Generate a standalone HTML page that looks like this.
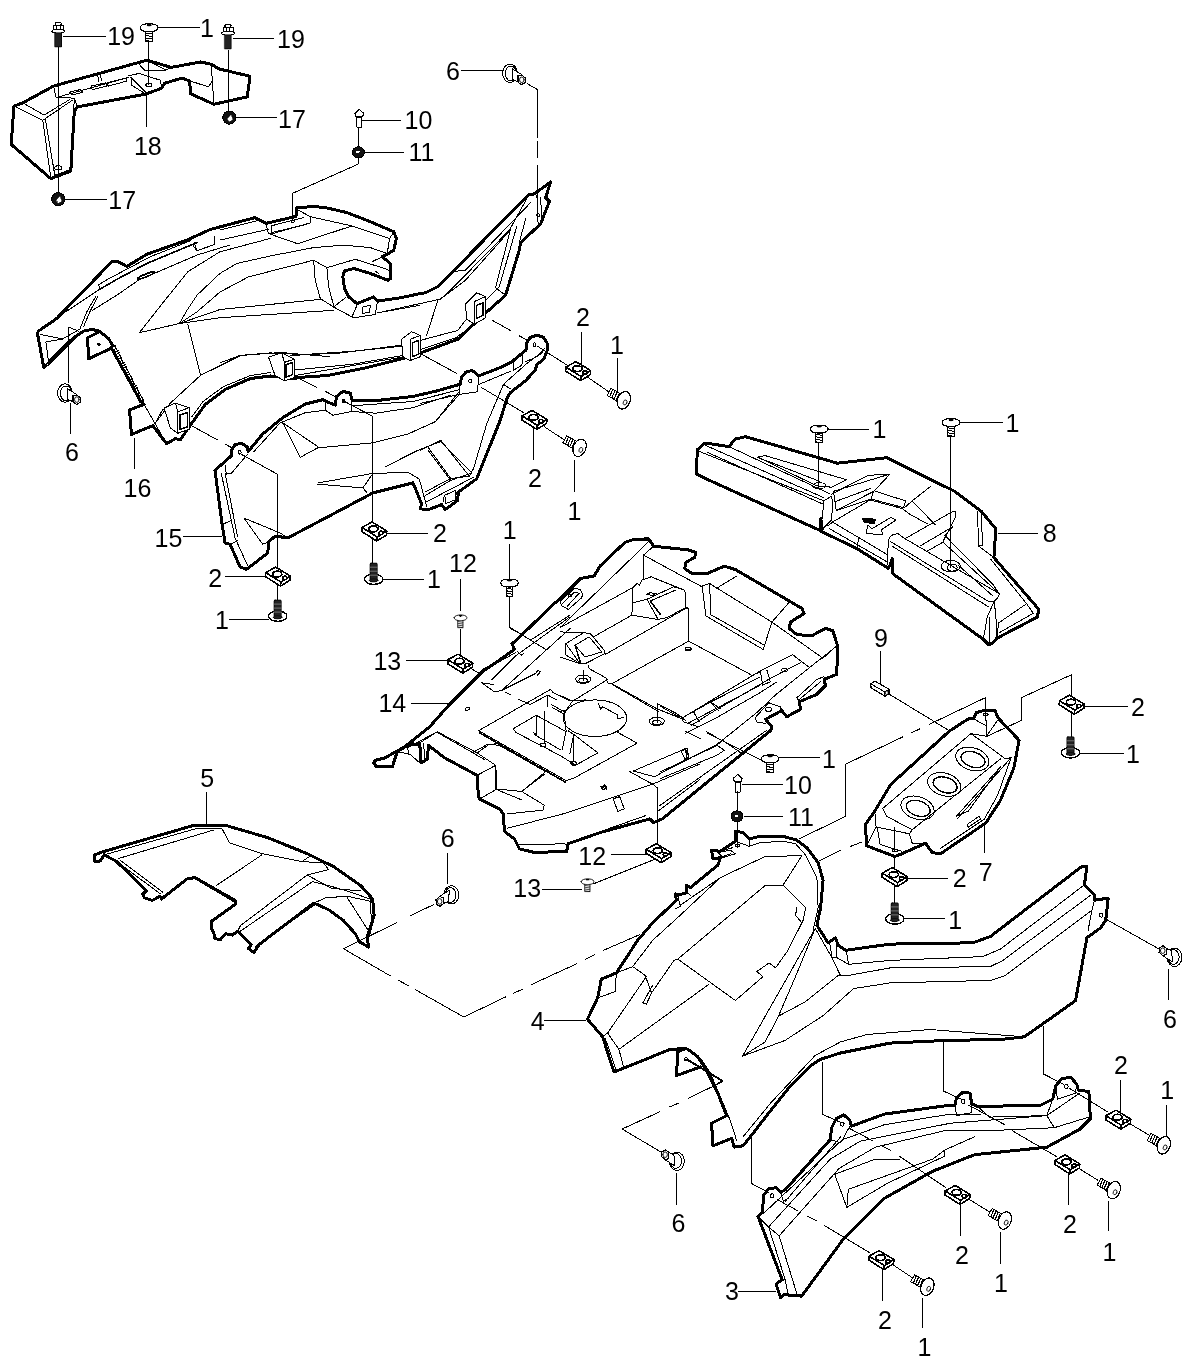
<!DOCTYPE html>
<html><head><meta charset="utf-8"><title>Parts diagram</title>
<style>
html,body{margin:0;padding:0;background:#fff;}
svg{will-change:transform;display:block;shape-rendering:crispEdges;}
svg path,svg ellipse,svg circle,svg rect,svg line{stroke:#000;stroke-linejoin:round;stroke-linecap:round;}
svg text{font-family:"Liberation Sans",sans-serif;fill:#000;stroke:none;}
</style></head><body>
<svg width="1197" height="1365" viewBox="0 0 1197 1365">
<rect x="0" y="0" width="1197" height="1365" fill="#fff" stroke="none" style="stroke:none"/>
<path d="M13.9 106.1 L22.7 102.9 L53.5 86.1 L147.0 60.2 L171.1 67.4 L200.5 62.0 L211.2 64.2 L219.2 69.0 L250.0 76.2 L247.3 96.8 L213.9 104.3 L190.3 93.6 L189.8 81.0 L181.8 78.1 L164.4 83.4 L161.7 88.2 L145.7 94.1 L77.5 106.9 L74.3 110.9 L70.8 171.1 L50.8 178.6 L11.2 144.4Z" stroke-width="3" fill="none"/>
<path d="M13.9 106.1 L42.8 120.3 L72.2 100.3" stroke-width="1" fill="none"/>
<path d="M42.8 120.3 L50.8 177.8" stroke-width="1" fill="none"/>
<path d="M45.4 119.5 L54.8 175.1" stroke-width="1" fill="none"/>
<path d="M54.8 175.1 L70.0 169.8" stroke-width="1" fill="none"/>
<path d="M53.5 86.1 L56.1 97.6 L74.3 98.1 L77.5 106.9" stroke-width="1" fill="none"/>
<path d="M56.1 97.6 L128.3 77.5" stroke-width="1" fill="none"/>
<path d="M74.3 98.1 L70.8 171.1" stroke-width="1" fill="none"/>
<path d="M22.7 102.9 L44.1 115.0 L70.0 99.4" stroke-width="1" fill="none"/>
<path d="M97.6 74.3 L98.9 81.5" stroke-width="1" fill="none"/>
<path d="M100.3 73.8 L101.6 81.0" stroke-width="1" fill="none"/>
<path d="M211.2 64.2 L213.9 103.7" stroke-width="1" fill="none"/>
<path d="M190.3 81.0 L208.5 86.9 L212.5 80.2" stroke-width="1" fill="none"/>
<path d="M147.0 60.2 L165.7 70.0 L171.1 67.4" stroke-width="1" fill="none"/>
<path d="M128.3 75.7 L139.0 73.5 L160.4 80.2 L161.7 88.2" stroke-width="1" fill="none"/>
<path d="M131.0 77.5 L145.7 92.2" stroke-width="1" fill="none"/>
<path d="M131.0 77.5 L131.5 85.0 L145.7 94.1" stroke-width="1" fill="none"/>
<path d="M139.0 64.2 L144.4 70.0 L165.7 70.0" stroke-width="1" fill="none"/>
<path d="M69.5 92.2 L80.2 89.6 L82.9 92.2 L72.2 94.9Z" stroke-width="1" fill="none"/>
<path d="M90.9 86.1 L105.6 82.9 L106.9 86.1 L92.2 89.6Z" stroke-width="1" fill="none"/>
<path d="M106.9 82.9 L125.6 78.1 L127.0 81.0 L108.3 86.1Z" stroke-width="1" fill="none"/>
<ellipse cx="148.9" cy="85.0" rx="3.2" ry="1.9" stroke-width="1" fill="none"/>
<ellipse cx="58.3" cy="167.9" rx="3.7" ry="2.1" stroke-width="1" fill="none"/>
<path d="M58.8 46.8 L58.8 192.5" stroke-width="1" fill="none"/>
<path d="M148.9 42.2 L148.9 85.0" stroke-width="1" fill="none"/>
<path d="M228.0 49.5 L228.0 110.9" stroke-width="1" fill="none"/>
<path d="M146.5 94.9 L146.5 127.0" stroke-width="1" fill="none"/>
<path d="M62.8 36.1 L105.6 36.1" stroke-width="1" fill="none"/>
<path d="M158.3 27.5 L199.2 27.5" stroke-width="1" fill="none"/>
<path d="M233.9 38.8 L274.0 38.8" stroke-width="1" fill="none"/>
<path d="M236.6 117.6 L276.7 117.6" stroke-width="1" fill="none"/>
<path d="M65.5 199.2 L106.9 199.2" stroke-width="1" fill="none"/>
<text transform="translate(107.2 44.9) scale(1 1)" font-size="25" text-anchor="start">19</text>
<text transform="translate(200.0 36.9) scale(1 1)" font-size="25" text-anchor="start">1</text>
<text transform="translate(277.0 47.6) scale(1 1)" font-size="25" text-anchor="start">19</text>
<text transform="translate(278.0 128.3) scale(1 1)" font-size="25" text-anchor="start">17</text>
<text transform="translate(108.3 209.3) scale(1 1)" font-size="25" text-anchor="start">17</text>
<text transform="translate(133.9 155.1) scale(1 1)" font-size="25" text-anchor="start">18</text>
<path d="M43.7 367.3 L37.5 333.6 L38.4 331.1 L56.7 318.5 L111.9 261.7 L117.2 261.4 L126.9 266.4 L147.0 254.2 L187.1 240.0 L210.5 229.4 L255.1 217.6 L255.1 217.6 L265.9 223.4 L296.0 216.4 L296.0 208.0 L310.2 206.7 L323.6 207.2 L347.0 212.6 L370.4 221.7 L393.8 231.8 L396.3 238.5 L393.8 250.2 L387.1 254.3 L382.1 256.8 L390.4 263.5 L390.4 278.6 L387.9 280.2 L370.4 273.5 L353.7 268.5 L344.5 271.0 L342.8 276.9 L344.5 288.6 L348.7 296.9 L357.0 303.6 L373.7 296.9 L377.9 301.1 L400.5 297.8 L420.0 293.6 L425.3 292.8 L437.9 286.5 L452.9 271.5 L528.1 195.1 L534.4 193.8 L550.7 182.0 L545.6 197.6 L549.4 201.3 L540.6 223.9 L520.6 242.7 L519.3 250.2 L505.5 295.3 L483.0 315.4 L457.9 339.2 L420.3 353.0 L405.3 358.0 L365.2 368.0 L327.6 375.5 L290.0 378.0 L295.7 378.5 L270.6 376.0 L250.6 378.5 L225.5 389.3 L205.4 404.3 L190.4 425.1 L180.4 439.7 L175.4 438.7 L166.6 443.7 L152.8 425.6 L131.5 434.4 L129.5 410.1 L144.0 404.3 L140.8 401.8 L111.7 348.4 L112.2 344.4 L108.5 338.6 L99.3 331.1 L91.8 329.4 L83.5 331.1 L75.1 336.9 L63.4 348.6 L47.5 364.5Z" stroke-width="3" fill="none"/>
<path d="M97.7 332.7 L87.6 337.7 L88.5 359.0 L111.9 347.8" stroke-width="3" fill="none"/>
<ellipse cx="99.0" cy="344.4" rx="1.3" ry="1.3" stroke-width="1" fill="#000"/>
<path d="M114.4 345.3 L143.6 401.2" stroke-width="1" fill="none"/>
<path d="M113.4 346.9 L115.5 345.9" stroke-width="1" fill="none"/>
<path d="M114.7 349.3 L116.9 348.3" stroke-width="1" fill="none"/>
<path d="M115.9 351.6 L118.1 350.6" stroke-width="1" fill="none"/>
<path d="M117.1 354.0 L119.2 352.9" stroke-width="1" fill="none"/>
<path d="M118.2 356.3 L120.4 355.3" stroke-width="1" fill="none"/>
<path d="M119.6 358.6 L121.7 357.6" stroke-width="1" fill="none"/>
<path d="M120.7 361.0 L122.9 360.0" stroke-width="1" fill="none"/>
<path d="M121.9 363.3 L124.1 362.3" stroke-width="1" fill="none"/>
<path d="M123.1 365.6 L125.2 364.6" stroke-width="1" fill="none"/>
<path d="M124.2 368.0 L126.4 367.0" stroke-width="1" fill="none"/>
<path d="M125.6 370.3 L127.7 369.3" stroke-width="1" fill="none"/>
<path d="M126.7 372.7 L128.9 371.7" stroke-width="1" fill="none"/>
<path d="M127.9 375.0 L130.1 374.0" stroke-width="1" fill="none"/>
<path d="M129.1 377.3 L131.3 376.3" stroke-width="1" fill="none"/>
<path d="M130.4 379.7 L132.6 378.7" stroke-width="1" fill="none"/>
<path d="M131.6 382.0 L133.8 381.0" stroke-width="1" fill="none"/>
<path d="M132.8 384.4 L134.9 383.4" stroke-width="1" fill="none"/>
<path d="M133.9 386.7 L136.1 385.7" stroke-width="1" fill="none"/>
<path d="M135.3 389.0 L137.4 388.0" stroke-width="1" fill="none"/>
<path d="M136.4 391.4 L138.6 390.4" stroke-width="1" fill="none"/>
<path d="M137.6 393.7 L139.8 392.7" stroke-width="1" fill="none"/>
<path d="M138.8 396.1 L140.9 395.1" stroke-width="1" fill="none"/>
<path d="M140.1 398.4 L142.3 397.4" stroke-width="1" fill="none"/>
<path d="M141.3 400.7 L143.5 399.7" stroke-width="1" fill="none"/>
<path d="M40.0 334.4 L62.6 338.9 L79.3 329.4" stroke-width="1" fill="none"/>
<path d="M45.9 341.9 L63.4 338.9" stroke-width="1" fill="none"/>
<path d="M45.9 341.9 L48.4 360.6 L70.1 338.9" stroke-width="1" fill="none"/>
<path d="M68.8 327.2 L78.5 331.1" stroke-width="1" fill="none"/>
<path d="M64.3 312.7 L99.3 289.6" stroke-width="1" fill="none"/>
<path d="M99.3 289.6 L116.9 279.3 L147.0 263.4 L197.1 242.5" stroke-width="1.6" fill="none"/>
<path d="M100.2 289.8 L98.5 284.8 L108.5 278.8 L123.6 270.9 L150.3 256.7 L190.4 240.8" stroke-width="1" fill="none"/>
<path d="M80.1 328.6 L86.8 311.8 L96.0 296.0" stroke-width="1" fill="none"/>
<path d="M83.5 326.9 L90.2 311.0 L97.7 296.8" stroke-width="1" fill="none"/>
<path d="M92.7 310.2 L116.9 295.1 L138.6 280.1 L197.1 255.0 L230.0 245.0" stroke-width="1" fill="none"/>
<ellipse cx="146.1" cy="275.4" rx="9.7" ry="1.8" stroke-width="1" fill="none" transform="rotate(-22 146.1 275.4)"/>
<ellipse cx="146.1" cy="275.4" rx="8.0" ry="1.0" stroke-width="1" fill="none" transform="rotate(-22 146.1 275.4)"/>
<path d="M139.4 332.7 L163.7 301.8 L187.9 271.7 L220.0 251.7 L220.0 251.8 L245.1 245.1 L270.1 238.5" stroke-width="1" fill="none"/>
<path d="M139.4 332.7 L179.5 323.5 L220.0 317.7 L333.6 310.3" stroke-width="1" fill="none"/>
<path d="M179.5 323.5 L220.0 309.5 L320.3 299.4" stroke-width="1" fill="none"/>
<path d="M179.5 323.5 L197.1 311.8 L220.0 292.0 L248.4 276.9 L313.6 260.2 L326.9 267.7 L355.3 259.3 L384.6 268.5 L388.8 270.2" stroke-width="1" fill="none"/>
<path d="M179.5 323.5 L187.1 310.2 L197.1 295.1 L220.0 273.4 L236.7 263.5 L270.1 256.0 L313.6 247.6 L343.6 245.1 L370.4 247.6 L387.1 253.5" stroke-width="1" fill="none"/>
<path d="M187.9 324.4 L200.4 374.5" stroke-width="1" fill="none"/>
<path d="M330.0 356.7 L280.6 352.5 L240.5 355.5 L200.4 375.5 L170.4 403.1 L155.3 423.1" stroke-width="1" fill="none"/>
<path d="M270.6 372.5 L250.6 375.5 L223.0 386.8 L202.9 401.8 L191.7 416.9" stroke-width="1" fill="none"/>
<path d="M144.0 404.3 L166.6 443.7" stroke-width="1" fill="none"/>
<path d="M155.3 423.1 L162.8 409.3 L166.6 410.6" stroke-width="1" fill="none"/>
<path d="M265.9 223.4 L268.5 233.4 L271.8 233.8 L310.2 222.9 L310.2 216.7 L297.7 209.7" stroke-width="1" fill="none"/>
<path d="M271.0 225.9 L271.8 232.6 L306.9 224.3" stroke-width="1" fill="none"/>
<path d="M271.0 225.9 L303.5 217.6" stroke-width="1" fill="none"/>
<ellipse cx="292.7" cy="221.4" rx="1.7" ry="1.3" stroke-width="1" fill="none"/>
<path d="M310.2 216.7 L352.0 225.9 L389.6 238.5 L387.1 254.3" stroke-width="1" fill="none"/>
<path d="M389.6 238.5 L393.8 231.8" stroke-width="1" fill="none"/>
<path d="M269.3 233.8 L297.7 243.8 L352.0 225.9" stroke-width="1" fill="none"/>
<path d="M220.0 230.1 L256.8 220.9" stroke-width="1" fill="none"/>
<path d="M220.0 240.1 L268.5 229.3" stroke-width="1" fill="none"/>
<path d="M313.6 260.2 L315.2 280.2 L320.3 298.6 L333.6 307.0 L353.7 317.8 L375.4 314.5 L377.4 301.1" stroke-width="1" fill="none"/>
<path d="M326.9 267.7 L328.6 286.9 L333.6 305.3" stroke-width="1" fill="none"/>
<path d="M333.6 307.0 L345.3 297.8" stroke-width="1" fill="none"/>
<path d="M352.0 317.0 L357.0 305.3" stroke-width="1" fill="none"/>
<path d="M362.9 307.0 L370.4 305.3 L369.5 312.0 L362.0 313.6Z" stroke-width="1" fill="none"/>
<path d="M372.0 261.8 L382.1 256.8" stroke-width="1" fill="none"/>
<path d="M375.4 271.5 L378.7 273.2" stroke-width="1" fill="none"/>
<path d="M377.9 312.8 L420.0 305.3" stroke-width="1" fill="none"/>
<path d="M220.0 362.9 L240.1 355.4 L270.1 352.9 L303.5 354.6 L353.7 351.2 L402.1 346.2" stroke-width="1" fill="none"/>
<path d="M295.2 375.5 L402.1 357.1" stroke-width="1" fill="none"/>
<path d="M377.7 312.9 L440.4 299.1 L465.4 280.3 L508.0 232.7 L528.1 196.3" stroke-width="1" fill="none"/>
<path d="M437.9 300.3 L426.6 335.4" stroke-width="1" fill="none"/>
<path d="M440.4 299.1 L452.9 287.8 L510.6 228.9" stroke-width="1" fill="none"/>
<path d="M452.9 271.5 L465.4 270.3 L530.6 202.6" stroke-width="1" fill="none"/>
<path d="M510.6 228.9 L495.5 287.8 L505.5 295.3" stroke-width="1" fill="none"/>
<path d="M516.8 226.4 L499.3 286.5 L485.5 300.3" stroke-width="1" fill="none"/>
<path d="M525.6 218.9 L519.3 242.7" stroke-width="1" fill="none"/>
<path d="M536.9 195.1 L538.1 223.9" stroke-width="1" fill="none"/>
<path d="M540.6 197.6 L541.9 220.1" stroke-width="1" fill="none"/>
<ellipse cx="538.1" cy="215.1" rx="1.3" ry="1.8" stroke-width="1" fill="none"/>
<path d="M420.3 340.4 L457.9 330.4 L465.4 320.4 L467.9 317.9" stroke-width="1" fill="none"/>
<path d="M421.6 349.2 L455.4 337.9 L476.7 323.4" stroke-width="1" fill="none"/>
<path d="M290.0 355.5 L340.1 353.0 L400.3 345.4" stroke-width="1" fill="none"/>
<path d="M290.0 370.5 L352.7 364.2 L402.8 355.5" stroke-width="1" fill="none"/>
<path d="M465.4 304.1 L476.7 292.8 L485.5 296.6 L474.2 301.6 L474.2 324.1 L466.7 319.1Z" stroke-width="1" fill="#fff"/>
<path d="M474.2 301.6 L485.5 296.6 L485.5 317.9 L474.2 324.1Z" stroke-width="1" fill="#fff"/>
<path d="M476.7 305.3 L483.0 302.8 L483.0 315.4 L476.7 318.4Z" stroke-width="1.5" fill="none"/>
<path d="M401.5 339.2 L411.6 331.7 L420.3 335.4 L410.3 339.2 L410.3 360.5 L402.8 356.7Z" stroke-width="1" fill="#fff"/>
<path d="M410.3 339.2 L420.3 335.4 L420.3 356.7 L410.3 360.5Z" stroke-width="1" fill="#fff"/>
<path d="M412.3 342.9 L418.3 340.4 L418.3 354.2 L412.3 356.7Z" stroke-width="1.5" fill="none"/>
<path d="M268.5 357.1 L281.8 352.9 L284.3 362.4 L284.3 380.8 L275.1 375.5Z" stroke-width="1" fill="#fff"/>
<path d="M284.3 362.4 L294.4 359.1 L294.4 377.5 L284.3 380.8Z" stroke-width="1" fill="#fff"/>
<path d="M281.8 352.9 L294.4 359.1" stroke-width="1" fill="none"/>
<path d="M286.0 364.6 L292.7 362.4 L292.7 374.6 L286.0 377.1Z" stroke-width="1.5" fill="none"/>
<path d="M164.1 408.1 L175.4 403.1 L177.9 411.9 L177.9 433.2 L170.4 428.1Z" stroke-width="1" fill="#fff"/>
<path d="M177.9 411.9 L189.1 407.6 L189.1 429.4 L177.9 433.2Z" stroke-width="1" fill="#fff"/>
<path d="M175.4 403.1 L189.1 407.6" stroke-width="1" fill="none"/>
<path d="M179.9 415.1 L187.4 412.6 L187.4 426.9 L179.9 429.4Z" stroke-width="1.5" fill="none"/>
<path d="M194.2 242.2 L196.7 250.7 L214.2 244.7 L215.0 235.7" stroke-width="1" fill="none"/>
<path d="M196.7 250.7 L192.9 245.2" stroke-width="1" fill="none"/>
<path d="M215.0 470.4 L231.3 455.8 L231.3 450.3 L235.1 444.8 L241.4 443.1 L247.1 446.8 L248.1 451.6 L262.7 434.0 L282.7 417.7 L305.3 404.0 L322.8 399.7 L326.6 401.5 L335.3 405.2 L336.6 396.4 L342.9 391.4 L350.4 393.2 L352.1 400.2 L375.4 400.7 L413.0 396.4 L436.7 391.0 L460.1 384.3 L461.8 376.8 L465.9 372.1 L471.8 370.6 L476.0 373.1 L478.5 376.0 L500.2 367.6 L511.9 361.8 L521.9 353.4 L526.1 350.1 L526.1 343.4 L530.3 337.5 L537.0 335.0 L543.6 337.5 L547.3 343.4 L547.8 349.2 L543.6 359.3 L537.0 364.3 L535.3 370.1 L525.3 381.0 L510.2 392.7 L506.9 398.5 L500.2 420.3 L476.8 478.7 L458.4 492.1 L457.6 500.5 L445.1 509.6 L441.7 504.6 L428.4 509.6 L420.0 508.8 L421.8 504.2 L413.0 482.9 L372.9 492.9 L287.7 538.0 L275.2 536.0 L268.9 541.8 L267.7 553.1 L246.4 569.4 L240.1 566.9 L230.1 544.3 L225.1 543.1 L222.1 524.3Z" stroke-width="3" fill="#fff"/>
<path d="M225.1 465.4 L226.3 474.1 L231.3 473.4 L247.6 454.1" stroke-width="1" fill="none"/>
<path d="M325.3 401.5 L325.3 410.2 L332.8 415.2 L351.6 411.5 L352.1 400.2" stroke-width="1" fill="none"/>
<path d="M460.1 384.3 L459.3 394.4 L477.6 391.8 L478.5 376.0" stroke-width="1" fill="none"/>
<ellipse cx="239.6" cy="452.3" rx="1.5" ry="1.8" stroke-width="1" fill="none"/>
<ellipse cx="343.6" cy="401.0" rx="1.5" ry="1.8" stroke-width="1" fill="none"/>
<ellipse cx="470.1" cy="381.0" rx="1.5" ry="1.8" stroke-width="1" fill="none"/>
<ellipse cx="534.5" cy="344.6" rx="1.5" ry="1.8" stroke-width="1" fill="none"/>
<path d="M221.3 473.4 L235.1 538.0 L247.6 565.6" stroke-width="1" fill="none"/>
<path d="M225.1 473.4 L237.6 536.8" stroke-width="1" fill="none"/>
<path d="M253.9 451.6 L280.2 422.8 L305.3 412.7 L325.3 410.2" stroke-width="1" fill="none"/>
<path d="M282.7 422.8 L300.3 457.3 L317.8 447.8 L372.9 442.8 L408.0 434.0 L435.6 421.5 L458.1 392.7" stroke-width="1" fill="none"/>
<path d="M282.7 422.8 L317.8 446.6" stroke-width="1" fill="none"/>
<path d="M317.8 482.9 L372.9 473.4 L408.0 472.4 L419.3 479.1 L426.8 506.7" stroke-width="1" fill="none"/>
<path d="M317.8 484.2 L362.9 487.9 L366.7 492.4" stroke-width="1" fill="none"/>
<path d="M362.9 487.9 L372.9 473.4" stroke-width="1" fill="none"/>
<path d="M352.9 405.7 L413.0 401.5 L459.4 389.7" stroke-width="1" fill="none"/>
<path d="M351.6 411.5 L375.4 413.2 L413.0 407.7 L450.6 395.2" stroke-width="1" fill="none"/>
<path d="M385.5 466.6 L418.0 450.3 L440.6 441.6 L470.7 471.6" stroke-width="1" fill="none"/>
<path d="M428.1 450.3 L450.6 480.4" stroke-width="1" fill="none"/>
<path d="M425.6 495.4 L450.6 480.4 L471.9 472.9" stroke-width="1" fill="none"/>
<path d="M426.8 501.7 L453.1 487.9 L473.2 477.4" stroke-width="1" fill="none"/>
<path d="M243.9 518.0 L280.2 533.0 L287.7 538.0" stroke-width="1" fill="none"/>
<path d="M243.9 518.0 L262.7 544.3 L268.9 541.8" stroke-width="1" fill="none"/>
<path d="M222.6 524.3 L231.3 520.5 L235.1 538.0" stroke-width="1" fill="none"/>
<path d="M230.1 544.3 L237.6 540.6" stroke-width="1" fill="none"/>
<path d="M443.1 501.7 L444.4 495.4 L455.6 490.4 L458.1 499.2" stroke-width="1" fill="none"/>
<path d="M459.3 394.4 L435.0 421.9 L420.0 428.6" stroke-width="1" fill="none"/>
<path d="M420.0 403.5 L459.3 394.4" stroke-width="1" fill="none"/>
<path d="M479.3 384.3 L511.1 371.0" stroke-width="1" fill="none"/>
<path d="M513.6 362.6 L513.6 370.1 L521.9 365.1 L522.8 354.3" stroke-width="1" fill="none"/>
<path d="M503.5 384.3 L486.8 423.6 L473.5 468.7 L469.3 476.2 L450.1 478.7 L425.0 492.1" stroke-width="1" fill="none"/>
<path d="M503.5 384.3 L526.9 363.4 L540.3 353.4 L544.5 348.4" stroke-width="1" fill="none"/>
<path d="M503.5 384.3 L510.2 388.8" stroke-width="1" fill="none"/>
<path d="M525.3 361.8 L535.3 357.6 L542.8 352.6" stroke-width="1" fill="none"/>
<path d="M440.9 440.3 L469.3 476.2" stroke-width="1" fill="none"/>
<path d="M428.4 447.8 L450.9 478.7" stroke-width="1" fill="none"/>
<path d="M440.9 440.3 L420.0 450.3" stroke-width="1" fill="none"/>
<path d="M445.1 497.1 L445.1 503.8 L455.9 499.6 L455.9 492.1" stroke-width="1" fill="none"/>
<path d="M696.0 473.7 L697.5 449.6 L705.0 443.0 L729.1 446.6 L735.1 439.1 L745.6 436.7 L837.4 463.2 L887.0 457.7 L954.5 491.3 L981.4 511.5 L995.8 528.8 L993.9 557.6 L1039.0 609.5 L1037.1 617.2 L996.8 638.3 L993.9 642.1 L989.1 645.0 L983.3 639.3 L893.0 573.9 L892.1 558.6 L890.1 565.3 L888.2 568.2 L857.5 549.0 L820.0 530.7 L822.3 529.3 L820.8 518.8 L820.8 530.8 L708.0 479.7Z" stroke-width="3" fill="#fff"/>
<path d="M698.4 451.1 L823.8 500.8 L831.4 496.2 L832.9 502.9 L831.4 520.3 L822.3 529.3" stroke-width="1" fill="none"/>
<path d="M823.8 500.8 L822.3 518.8" stroke-width="1" fill="none"/>
<path d="M729.1 446.6 L829.8 493.8" stroke-width="1" fill="none"/>
<path d="M705.0 445.1 L823.8 497.7" stroke-width="1" fill="none"/>
<path d="M708.0 452.6 L822.3 503.8" stroke-width="1" fill="none"/>
<path d="M757.7 457.1 L765.2 455.6 L846.4 479.7 L831.4 487.2" stroke-width="1" fill="none"/>
<path d="M757.7 457.1 L816.3 485.7 L831.4 487.2" stroke-width="1" fill="none"/>
<path d="M765.2 460.2 L819.3 481.2" stroke-width="1" fill="none"/>
<ellipse cx="819.3" cy="485.7" rx="6.6" ry="3.0" stroke-width="1" fill="none"/>
<path d="M833.5 491.3 L890.1 474.0 L873.8 491.3 L836.3 510.5Z" stroke-width="1" fill="none"/>
<path d="M834.4 501.9 L870.9 488.4" stroke-width="1" fill="none"/>
<path d="M836.3 510.5 L870.9 499.0 L873.8 491.3" stroke-width="1" fill="none"/>
<path d="M831.5 494.2 L868.0 475.4 L889.2 474.0" stroke-width="1" fill="none"/>
<path d="M827.7 525.9 L832.5 522.1 L870.0 500.0 L902.6 508.6 L908.4 513.4 L927.6 524.0" stroke-width="1" fill="none"/>
<path d="M870.9 499.0 L903.6 507.6 L905.5 500.9 L875.7 491.3" stroke-width="1" fill="none"/>
<path d="M930.5 486.5 L912.2 500.9 L904.5 507.6" stroke-width="1" fill="none"/>
<path d="M912.2 500.9 L935.3 524.9" stroke-width="1" fill="none"/>
<path d="M832.5 522.1 L858.4 537.4 L887.3 554.7 L888.2 568.2" stroke-width="1" fill="none"/>
<path d="M858.4 537.4 L857.5 549.0" stroke-width="1" fill="none"/>
<path d="M829.6 528.8 L856.5 544.2 L886.3 561.4" stroke-width="1" fill="none"/>
<path d="M895.9 520.1 L881.5 529.7 L882.4 534.5 L866.1 533.6 L868.0 524.9 L871.9 528.8 L891.1 517.3Z" stroke-width="1" fill="none"/>
<path d="M862.3 518.2 L875.7 519.2 L873.8 524.0 L864.2 522.1Z" stroke-width="1" fill="#000"/>
<path d="M887.3 554.7 L889.2 537.4 L893.0 534.5 L897.8 533.6 L904.5 538.4 L996.8 592.2 L999.7 593.1 L997.7 598.0 L993.9 601.8" stroke-width="1" fill="none"/>
<path d="M890.1 541.3 L989.1 601.8 L993.9 601.8" stroke-width="1" fill="none"/>
<path d="M892.1 546.1 L988.1 606.6" stroke-width="1" fill="none"/>
<path d="M905.5 538.4 L953.5 511.1 L955.5 511.5 L955.5 517.3 L943.0 542.2" stroke-width="1" fill="none"/>
<path d="M919.9 546.1 L952.6 526.9" stroke-width="1" fill="none"/>
<path d="M943.0 542.2 L945.9 534.5 L952.6 526.9" stroke-width="1" fill="none"/>
<path d="M927.6 550.9 L943.0 542.2 L998.7 593.1" stroke-width="1" fill="none"/>
<path d="M958.3 565.3 L992.9 596.0" stroke-width="1" fill="none"/>
<path d="M944.9 535.5 L992.9 584.5 L998.7 593.1" stroke-width="1" fill="none"/>
<ellipse cx="950.7" cy="566.2" rx="9.6" ry="5.8" stroke-width="1" fill="none"/>
<ellipse cx="952.2" cy="567.6" rx="5.0" ry="3.5" stroke-width="1" fill="none"/>
<path d="M977.6 511.9 L978.5 546.1 L993.9 557.6" stroke-width="1" fill="none"/>
<path d="M981.4 511.5 L982.4 545.1 L978.5 546.1" stroke-width="1" fill="none"/>
<path d="M991.0 559.5 L1026.6 603.7 L1033.3 613.3" stroke-width="1" fill="none"/>
<path d="M1026.6 603.7 L998.7 622.9 L996.8 638.3" stroke-width="1" fill="none"/>
<path d="M1033.3 613.3 L999.7 632.5" stroke-width="1" fill="none"/>
<path d="M993.9 601.8 L995.8 613.3 L996.8 638.3" stroke-width="1" fill="none"/>
<path d="M989.1 617.2 L989.1 644.1" stroke-width="1" fill="none"/>
<path d="M993.9 601.8 L987.2 617.2 L983.3 639.3" stroke-width="1" fill="none"/>
<path d="M374.9 760.4 L384.9 757.9 L404.8 746.7 L429.7 726.7 L449.7 704.3 L484.5 669.5 L489.5 667.0 L514.4 649.5 L511.9 643.3 L514.4 642.1 L554.3 603.4 L559.3 599.7 L580.4 578.5 L594.1 576.0 L600.0 566.1 L624.9 542.4 L632.4 539.9 L648.6 538.7 L653.6 546.2 L688.4 549.9 L695.9 552.4 L694.7 557.4 L685.9 562.3 L684.7 568.6 L692.2 573.6 L707.1 573.6 L724.5 566.1 L735.8 569.8 L789.3 601.0 L801.8 608.4 L804.2 613.4 L790.5 622.1 L789.3 628.4 L796.8 634.6 L811.7 635.8 L825.4 628.4 L832.9 630.8 L837.9 647.0 L836.6 674.4 L824.2 679.4 L825.4 685.6 L816.7 694.4 L799.3 701.8 L800.5 709.3 L786.8 716.8 L781.8 710.5 L765.6 719.3 L771.9 726.7 L770.6 730.5 L662.3 818.9 L653.6 822.6 L649.8 818.9 L600.0 832.6 L568.0 843.8 L566.7 851.3 L534.4 852.5 L519.4 848.8 L514.4 838.8 L504.5 831.4 L503.2 813.9 L499.5 808.9 L479.6 799.0 L478.3 795.2 L477.1 775.3 L444.7 757.9 L428.5 745.4 L427.3 759.1 L421.0 762.9 L419.8 744.2 L407.3 745.4 L397.4 751.6 L392.4 766.6 L376.2 766.6 L373.7 762.9Z" stroke-width="3" fill="#fff"/>
<path d="M560.0 601.8 L574.2 588.5 L580.1 589.3 L582.6 594.3 L581.7 597.7 L568.4 609.4 L561.7 606.0Z" stroke-width="1" fill="none"/>
<path d="M562.5 603.5 L574.2 592.2 L579.2 593.2 L567.5 606.0" stroke-width="1" fill="none"/>
<ellipse cx="570.0" cy="595.5" rx="1.8" ry="1.2" stroke-width="1" fill="none"/>
<path d="M649.4 540.9 L560.0 627.7" stroke-width="1" fill="none"/>
<path d="M626.8 540.9 L649.4 540.9" stroke-width="1" fill="none"/>
<path d="M653.6 545.9 L651.1 548.4 L643.5 555.1 L643.5 578.5" stroke-width="1" fill="none"/>
<path d="M643.5 555.1 L702.0 586.8" stroke-width="1" fill="none"/>
<path d="M560.0 627.7 L632.7 587.6 L636.9 583.5 L639.4 585.1 L641.9 580.1 L651.1 576.8 L684.5 590.2 L685.3 593.5 L685.3 607.7 L688.7 608.5 L688.7 641.1" stroke-width="1" fill="none"/>
<path d="M641.9 580.1 L643.5 578.5" stroke-width="1" fill="none"/>
<path d="M632.7 602.7 L646.9 599.3 L673.6 586.8 L679.5 588.5" stroke-width="1" fill="none"/>
<path d="M632.7 587.6 L632.7 602.7 L631.8 615.2 L657.7 619.4 L666.9 617.7 L685.3 607.7" stroke-width="1" fill="none"/>
<path d="M646.9 599.3 L657.7 618.6" stroke-width="1" fill="none"/>
<path d="M650.2 601.0 L660.3 614.4" stroke-width="1.5" fill="none"/>
<path d="M650.2 601.0 L675.3 590.2" stroke-width="1" fill="none"/>
<path d="M646.9 594.3 L650.2 592.7 L656.1 593.5 L652.7 595.5Z" stroke-width="1" fill="none"/>
<path d="M631.8 615.2 L593.4 636.9" stroke-width="1" fill="none"/>
<path d="M605.1 654.5 L687.8 607.2" stroke-width="1" fill="none"/>
<path d="M565.8 643.6 L583.4 632.8 L590.1 633.3 L604.3 650.3 L605.1 653.6 L585.1 663.7 L580.1 663.7Z" stroke-width="1" fill="none"/>
<path d="M575.0 645.3 L589.2 636.9 L601.8 652.0 L585.1 657.0Z" stroke-width="1" fill="none"/>
<path d="M575.0 645.3 L580.9 663.7" stroke-width="1.5" fill="none"/>
<path d="M565.8 643.6 L565.0 654.5 L580.1 663.7" stroke-width="1" fill="none"/>
<path d="M560.0 631.9 L583.4 632.8" stroke-width="1" fill="none"/>
<path d="M588.4 665.3 L589.2 668.7 L605.9 677.9 L607.6 682.9 L611.8 683.7 L688.7 641.1" stroke-width="1" fill="none"/>
<path d="M560.0 657.0 L580.1 663.7" stroke-width="1" fill="none"/>
<path d="M688.7 641.1 L752.1 675.4 L760.0 672.0" stroke-width="1" fill="none"/>
<path d="M611.8 683.7 L656.9 708.8 L682.0 718.8" stroke-width="1" fill="none"/>
<ellipse cx="583.1" cy="679.2" rx="7.5" ry="4.2" stroke-width="1" fill="none"/>
<ellipse cx="583.1" cy="680.4" rx="4.2" ry="2.2" stroke-width="1" fill="none"/>
<path d="M583.1 670.4 L583.1 680.4" stroke-width="1" fill="none"/>
<path d="M607.6 679.5 L572.5 701.3 L560.0 695.4" stroke-width="1" fill="none"/>
<path d="M560.0 711.3 L565.8 710.5 L572.5 701.3" stroke-width="1" fill="none"/>
<ellipse cx="656.9" cy="721.3" rx="7.5" ry="4.2" stroke-width="1" fill="none"/>
<ellipse cx="656.9" cy="722.5" rx="4.2" ry="2.2" stroke-width="1" fill="none"/>
<path d="M657.7 703.8 L657.7 722.1" stroke-width="1" fill="none"/>
<path d="M657.7 703.8 L677.0 713.8 L685.3 720.5" stroke-width="1" fill="none"/>
<path d="M716.2 588.5 L737.1 575.9" stroke-width="1" fill="none"/>
<path d="M683.6 717.1 L710.4 702.1 L760.0 677.0" stroke-width="1" fill="none"/>
<path d="M687.0 723.8 L760.0 685.4" stroke-width="1" fill="none"/>
<path d="M693.7 712.1 L698.7 720.5" stroke-width="1" fill="none"/>
<path d="M710.4 702.1 L718.7 710.5" stroke-width="1" fill="none"/>
<ellipse cx="688.3" cy="649.0" rx="3.0" ry="1.8" stroke-width="1" fill="none"/>
<ellipse cx="594.9" cy="718.2" rx="31.7" ry="18.3" stroke-width="1" fill="none"/>
<path d="M598.7 703.8 L600.7 709.5 L602.6 706.6 L618.0 715.3 L617.0 719.1 L623.7 717.2" stroke-width="1" fill="none"/>
<path d="M408.4 747.1 L460.2 693.7 L487.0 669.4" stroke-width="1" fill="none"/>
<path d="M517.0 651.1 L521.2 655.2 L523.7 653.6" stroke-width="1" fill="none"/>
<path d="M487.0 668.6 L515.4 652.7" stroke-width="1" fill="none"/>
<path d="M481.9 682.8 L494.5 692.0 L502.0 690.3 L535.4 673.6 L537.9 670.3 L540.4 671.9 L537.1 675.3" stroke-width="1" fill="none"/>
<path d="M481.9 682.8 L493.6 684.5" stroke-width="1" fill="none"/>
<path d="M492.0 679.5 L515.4 656.1 L570.0 616.8" stroke-width="1" fill="none"/>
<path d="M503.7 688.7 L570.0 628.5" stroke-width="1" fill="none"/>
<path d="M510.4 627.7 L547.1 650.2" stroke-width="1" fill="none"/>
<path d="M530.4 640.2 L570.0 615.1" stroke-width="1" fill="none"/>
<path d="M505.3 692.0 L510.4 694.5" stroke-width="1" fill="none"/>
<path d="M518.7 699.5 L528.7 703.7" stroke-width="1" fill="none"/>
<ellipse cx="467.7" cy="708.7" rx="2.5" ry="1.3" stroke-width="1" fill="none" transform="rotate(-20 467.7 708.7)"/>
<path d="M408.4 747.1 L436.8 732.1 L485.3 760.0" stroke-width="1" fill="none"/>
<path d="M473.6 752.1 L487.0 744.6 L497.0 743.8" stroke-width="1" fill="none"/>
<path d="M418.5 742.1 L420.1 760.0" stroke-width="1" fill="none"/>
<path d="M423.5 743.8 L425.1 760.0" stroke-width="1" fill="none"/>
<path d="M478.6 730.7 L550.7 689.3 L552.6 692.2 L569.9 700.9 L585.3 699.9" stroke-width="1" fill="none"/>
<path d="M478.6 730.7 L566.1 780.6 L574.7 777.7 L637.2 743.1 L618.0 732.6 L618.9 730.7" stroke-width="1" fill="none"/>
<path d="M480.0 733.0 L565.5 782.2" stroke-width="1.6" fill="none"/>
<path d="M513.2 728.7 L536.3 715.3 L566.1 731.6" stroke-width="1" fill="none"/>
<path d="M513.2 728.7 L516.1 732.6 L560.3 755.6" stroke-width="1" fill="none"/>
<path d="M536.3 715.3 L536.3 734.5 L533.4 732.6" stroke-width="1" fill="none"/>
<path d="M544.9 711.4 L544.9 744.1" stroke-width="1" fill="none"/>
<path d="M529.6 704.7 L547.8 695.1 L556.5 699.9" stroke-width="1" fill="none"/>
<path d="M547.8 695.1 L547.8 706.6" stroke-width="1" fill="none"/>
<path d="M551.7 704.7 L565.1 712.4" stroke-width="1" fill="none"/>
<path d="M552.6 707.6 L564.2 714.3 L566.1 730.7 L562.2 749.9" stroke-width="1" fill="none"/>
<path d="M568.0 730.7 L573.8 734.5 L569.9 753.7" stroke-width="1" fill="none"/>
<path d="M573.8 734.5 L597.8 752.8 L575.7 765.2 L560.3 755.6" stroke-width="1" fill="none"/>
<path d="M573.8 734.5 L573.8 761.4" stroke-width="1" fill="none"/>
<path d="M534.4 734.5 L560.3 749.9" stroke-width="1" fill="none"/>
<ellipse cx="543.0" cy="745.1" rx="2.7" ry="1.7" stroke-width="1.5" fill="none"/>
<ellipse cx="573.8" cy="763.3" rx="2.7" ry="1.7" stroke-width="1.5" fill="none"/>
<path d="M612.2 684.5 L658.3 711.4" stroke-width="1" fill="none"/>
<path d="M633.3 771.0 L687.1 748.0 L689.0 757.6 L654.5 776.8Z" stroke-width="1" fill="none"/>
<path d="M682.3 750.8 L685.2 748.9 L687.1 757.6 L684.2 759.5" stroke-width="1" fill="none"/>
<path d="M495.0 765.2 L495.9 789.3 L521.9 800.0" stroke-width="1" fill="none"/>
<path d="M520.9 792.1 L544.9 773.9" stroke-width="1" fill="none"/>
<path d="M600.7 786.4 L606.4 789.3 L604.5 784.5 L602.6 788.3" stroke-width="1" fill="none"/>
<path d="M419.8 742.9 L437.2 731.7 L477.1 752.9 L495.8 765.3 L497.0 789.0 L479.6 799.0" stroke-width="1" fill="none"/>
<path d="M477.1 752.9 L489.5 744.2 L499.5 745.4 L545.6 771.6" stroke-width="1" fill="none"/>
<path d="M495.8 765.3 L477.1 775.3" stroke-width="1" fill="none"/>
<path d="M497.0 789.0 L521.9 791.5 L544.3 805.2 L543.1 810.2 L507.0 813.9" stroke-width="1" fill="none"/>
<path d="M521.9 791.5 L545.6 771.6" stroke-width="1" fill="none"/>
<path d="M397.4 751.6 L409.8 754.1 L419.8 762.9" stroke-width="1" fill="none"/>
<path d="M407.3 745.4 L408.6 754.1" stroke-width="1" fill="none"/>
<path d="M792.8 654.7 L760.3 670.9 L682.6 717.7" stroke-width="1" fill="none"/>
<path d="M792.0 654.2 L809.5 667.6" stroke-width="1" fill="none"/>
<path d="M800.4 662.6 L770.3 678.4 L710.1 713.5 L691.7 725.2" stroke-width="1" fill="none"/>
<path d="M760.3 670.9 L762.8 685.1 L770.3 681.8 L766.9 670.1" stroke-width="1" fill="none"/>
<path d="M681.7 716.9 L683.4 721.9 L699.3 726.9" stroke-width="1" fill="none"/>
<path d="M693.4 711.8 L699.3 721.9" stroke-width="1" fill="none"/>
<path d="M710.1 701.8 L720.2 708.5" stroke-width="1" fill="none"/>
<path d="M660.0 706.0 L675.9 715.2 L682.6 717.7" stroke-width="1" fill="none"/>
<ellipse cx="784.5" cy="670.1" rx="3.0" ry="1.7" stroke-width="1" fill="none"/>
<ellipse cx="688.4" cy="648.4" rx="2.5" ry="1.3" stroke-width="1" fill="none"/>
<path d="M755.2 717.7 L768.6 702.7 L780.3 706.8 L782.0 711.0" stroke-width="1" fill="none"/>
<path d="M755.2 717.7 L756.9 721.9 L765.3 723.5" stroke-width="1" fill="none"/>
<ellipse cx="768.6" cy="709.3" rx="3.0" ry="2.2" stroke-width="1" fill="none"/>
<path d="M797.0 697.6 L817.1 679.3 L823.7 676.8 L826.2 680.1" stroke-width="1" fill="none"/>
<path d="M797.0 697.6 L798.7 701.0" stroke-width="1" fill="none"/>
<path d="M799.5 699.3 L820.4 681.8" stroke-width="1" fill="none"/>
<path d="M832.9 649.2 L809.5 667.6 L775.3 695.1 L757.7 711.8 L731.8 732.7 L716.8 744.4 L660.0 773.7" stroke-width="1" fill="none"/>
<path d="M685.1 733.6 L715.1 718.5 L758.6 693.5 L777.0 681.8" stroke-width="1" fill="none"/>
<path d="M660.0 778.7 L716.8 755.3 L724.3 750.3 L716.8 745.3 L722.7 740.3" stroke-width="1" fill="none"/>
<path d="M660.0 772.0 L717.6 745.3" stroke-width="1" fill="none"/>
<path d="M680.9 751.1 L685.1 748.6 L689.2 757.0 L685.1 759.5Z" stroke-width="1" fill="none"/>
<path d="M660.0 805.4 L766.9 730.2" stroke-width="1" fill="none"/>
<path d="M722.7 740.3 L741.9 753.6" stroke-width="1" fill="none"/>
<path d="M685.1 731.1 L700.1 738.6" stroke-width="1" fill="none"/>
<path d="M706.8 731.9 L716.0 736.9" stroke-width="1" fill="none"/>
<path d="M702.1 586.0 L709.6 583.5 L771.9 622.1 L763.2 649.5 L705.9 615.9Z" stroke-width="1" fill="none"/>
<path d="M709.6 583.5 L710.8 614.7 L763.2 644.5" stroke-width="1" fill="none"/>
<path d="M771.9 622.1 L822.9 658.2 L835.4 647.0" stroke-width="1" fill="none"/>
<path d="M771.9 622.1 L789.3 602.2" stroke-width="1" fill="none"/>
<path d="M507.6 828.2 L564.5 813.5 L652.8 784.1 L657.4 788.2 L657.4 819.0" stroke-width="1" fill="none"/>
<path d="M518.6 844.8 L564.5 843.8 L567.3 845.7" stroke-width="1" fill="none"/>
<path d="M567.3 843.3 L645.4 815.7" stroke-width="1" fill="none"/>
<path d="M613.2 798.8 L619.7 796.6 L624.3 808.9 L617.8 811.3Z" stroke-width="1" fill="none"/>
<path d="M601.3 786.9 L605.9 785.9 L606.8 788.7 L602.2 789.6Z" stroke-width="1" fill="none"/>
<path d="M652.8 784.1 L700.0 763.9" stroke-width="1" fill="none"/>
<path d="M657.4 811.7 L700.0 779.5" stroke-width="1" fill="none"/>
<path d="M628.9 771.2 L649.1 782.3 L652.8 784.1" stroke-width="1" fill="none"/>
<path d="M865.4 824.5 L874.8 811.1 L890.8 784.4 L949.6 730.9 L968.3 718.9 L973.7 718.9 L976.3 712.7 L985.7 710.0 L995.1 710.8 L997.7 717.5 L1019.1 740.3 L1013.8 768.3 L1000.4 800.4 L985.7 823.1 L940.3 853.9 L932.2 852.5 L925.5 843.2 L901.5 853.9 L894.8 856.5 L866.7 845.8Z" stroke-width="3" fill="#fff"/>
<path d="M882.8 808.4 L971.0 733.6 L1005.7 759.0 L1011.1 757.6" stroke-width="1" fill="none"/>
<path d="M882.8 808.4 L886.8 816.4 L912.2 829.8 L1000.4 759.0" stroke-width="1" fill="none"/>
<path d="M874.8 811.1 L876.1 827.1 L909.5 833.8 L912.2 843.2 L925.5 843.2" stroke-width="1" fill="none"/>
<path d="M876.1 827.1 L866.7 845.8" stroke-width="1" fill="none"/>
<path d="M909.5 833.8 L912.2 829.8" stroke-width="1" fill="none"/>
<path d="M894.8 827.1 L894.8 851.2" stroke-width="1" fill="none"/>
<path d="M877.4 828.5 L880.1 844.5 L901.5 851.2" stroke-width="1" fill="none"/>
<ellipse cx="894.8" cy="850.7" rx="2.7" ry="1.3" stroke-width="1" fill="none"/>
<ellipse cx="972.3" cy="759.0" rx="17.1" ry="11.2" stroke-width="1" fill="none" transform="rotate(18 972.3 759.0)"/>
<ellipse cx="973.1" cy="759.5" rx="12.3" ry="7.5" stroke-width="1.4" fill="none" transform="rotate(18 973.1 759.5)"/>
<ellipse cx="944.3" cy="784.4" rx="17.1" ry="11.2" stroke-width="1" fill="none" transform="rotate(18 944.3 784.4)"/>
<ellipse cx="945.1" cy="784.9" rx="12.3" ry="7.5" stroke-width="1.4" fill="none" transform="rotate(18 945.1 784.9)"/>
<ellipse cx="917.5" cy="807.9" rx="17.1" ry="11.2" stroke-width="1" fill="none" transform="rotate(18 917.5 807.9)"/>
<ellipse cx="918.3" cy="808.4" rx="12.3" ry="7.5" stroke-width="1.4" fill="none" transform="rotate(18 918.3 808.4)"/>
<path d="M985.7 710.0 L986.5 736.2 L997.7 720.2" stroke-width="1" fill="none"/>
<path d="M971.0 733.6 L986.5 736.2" stroke-width="1" fill="none"/>
<path d="M973.7 718.9 L985.7 725.5" stroke-width="1" fill="none"/>
<ellipse cx="985.7" cy="714.3" rx="2.4" ry="1.3" stroke-width="1" fill="none"/>
<path d="M956.3 816.4 L1000.4 767.0 L968.3 811.1Z" stroke-width="1" fill="none"/>
<path d="M957.6 818.6 L1011.1 757.6" stroke-width="1" fill="none"/>
<path d="M967.0 824.5 L979.0 816.4 L980.4 819.1 L968.3 827.1Z" stroke-width="1" fill="none"/>
<path d="M940.3 848.5 L984.4 819.1 L997.7 795.1 L1011.1 757.6" stroke-width="1" fill="none"/>
<path d="M94.7 861.6 L94.7 854.9 L101.4 852.2 L195.0 825.0 L224.4 825.0 L267.1 837.5 L307.2 853.6 L334.0 866.9 L360.7 885.6 L372.7 899.0 L374.1 915.1 L367.4 939.1 L368.7 947.1 L359.4 941.8 L355.4 933.8 L343.3 920.4 L328.6 909.7 L313.9 903.0 L259.1 944.5 L253.8 952.5 L248.4 948.5 L251.1 944.5 L237.7 931.1 L232.4 935.1 L225.7 933.8 L220.4 939.6 L215.0 938.6 L213.7 932.4 L211.0 928.4 L211.0 921.7 L235.1 904.4 L235.1 900.4 L195.0 877.6 L186.9 879.0 L161.5 899.0 L160.2 896.3 L152.2 900.4 L144.2 897.7 L142.8 893.7 L146.8 891.0 L116.1 861.1 L104.1 854.9 L100.1 861.1Z" stroke-width="3" fill="#fff"/>
<path d="M104.1 854.9 L197.6 828.2 L221.7 828.2" stroke-width="1" fill="none"/>
<path d="M118.8 858.4 L213.7 830.0" stroke-width="1" fill="none"/>
<path d="M116.1 861.1 L160.2 893.7" stroke-width="1" fill="none"/>
<path d="M120.1 860.3 L162.9 892.3" stroke-width="1" fill="none"/>
<path d="M221.7 828.2 L229.7 842.9 L261.8 853.6 L301.9 861.6 L309.9 856.2" stroke-width="1" fill="none"/>
<path d="M261.8 854.9 L216.3 885.6" stroke-width="1" fill="none"/>
<path d="M301.9 861.6 L323.3 862.9 L328.6 869.6 L307.2 875.0" stroke-width="1" fill="none"/>
<path d="M307.2 875.0 L240.4 925.7 L237.7 931.1" stroke-width="1" fill="none"/>
<path d="M307.2 875.0 L331.3 888.3 L360.7 891.0" stroke-width="1" fill="none"/>
<path d="M240.4 931.1 L312.6 881.6 L328.6 885.6 L347.3 891.0 L370.1 899.0" stroke-width="1" fill="none"/>
<path d="M313.9 903.0 L325.9 897.7 L347.3 896.3 L372.7 901.7" stroke-width="1" fill="none"/>
<path d="M347.3 897.7 L368.7 931.1" stroke-width="1" fill="none"/>
<path d="M370.1 899.0 L371.4 920.4 L366.0 937.8" stroke-width="1" fill="none"/>
<path d="M195.0 877.6 L197.6 880.3 L233.7 901.7" stroke-width="1" fill="none"/>
<path d="M255.1 947.1 L315.3 904.4" stroke-width="1" fill="none"/>
<path d="M206.2 792.1 L206.2 824.2" stroke-width="1" fill="none"/>
<text transform="translate(200.3 786.7) scale(1 1)" font-size="25" text-anchor="start">5</text>
<path d="M735.4 831.3 L742.9 832.5 L749.2 838.8 L760.5 836.3 L783.0 836.3 L796.8 840.1 L806.8 847.6 L818.1 862.6 L823.1 880.2 L820.6 907.7 L816.9 925.3 L828.1 942.8 L835.7 937.8 L838.2 945.3 L845.7 950.3 L890.1 944.1 L972.8 942.8 L990.4 936.5 L1081.9 866.4 L1086.9 866.4 L1084.4 885.2 L1094.4 895.2 L1094.4 900.2 L1108.2 898.2 L1105.7 920.3 L1100.7 927.8 L1086.9 937.8 L1075.6 1000.5 L1040.5 1025.5 L1024.2 1036.8 L1002.9 1039.3 L942.8 1040.6 L890.1 1043.1 L840.0 1053.1 L820.6 1059.3 L810.6 1065.6 L790.6 1085.7 L770.5 1110.7 L749.2 1138.3 L742.9 1145.8 L734.2 1147.1 L731.7 1138.3 L712.9 1145.8 L711.6 1123.3 L726.6 1115.7 L717.9 1093.2 L705.3 1068.1 L697.8 1056.8 L687.8 1049.3 L685.3 1048.6 L670.3 1049.3 L623.9 1068.1 L613.9 1071.9 L602.6 1036.8 L587.5 1019.2 L597.6 997.9 L601.3 979.1 L616.4 972.9 L637.7 940.3 L652.7 922.8 L676.5 900.2 L675.3 893.9 L677.8 895.2 L686.5 892.7 L686.5 885.2 L690.3 887.7 L717.9 865.1 L720.4 857.6 L712.9 858.8 L711.6 850.1 L720.4 851.3 L735.4 841.3Z" stroke-width="3" fill="#fff"/>
<path d="M685.3 1048.6 L677.8 1051.8 L676.5 1075.6 L700.3 1066.9" stroke-width="3" fill="none"/>
<ellipse cx="686.0" cy="1059.3" rx="1.5" ry="1.8" stroke-width="1" fill="none"/>
<path d="M690.3 1050.6 L700.3 1058.1 L710.4 1073.1 L730.4 1120.8 L736.7 1140.8" stroke-width="1" fill="none"/>
<path d="M735.4 841.3 L749.2 846.3 L749.2 838.8" stroke-width="1" fill="none"/>
<path d="M720.4 851.3 L732.9 847.6" stroke-width="1" fill="none"/>
<ellipse cx="737.4" cy="845.8" rx="2.3" ry="1.3" stroke-width="1" fill="none"/>
<path d="M717.9 852.6 L730.4 850.1 L735.4 853.8 L722.9 857.6Z" stroke-width="1" fill="none"/>
<path d="M749.2 846.3 L760.5 842.6 L783.0 841.3 L795.6 843.8 L805.6 855.1 L816.9 877.6 L818.1 907.7 L813.1 930.3" stroke-width="1" fill="none"/>
<path d="M720.4 857.6 L730.4 853.8" stroke-width="1" fill="none"/>
<path d="M677.8 959.1 L765.5 885.2 L783.0 885.2 L805.6 907.7 L803.1 920.3 L788.0 950.3 L775.5 967.9 L769.2 962.9 L756.7 971.6 L763.0 976.6 L735.4 1000.5Z" stroke-width="1" fill="none"/>
<path d="M783.0 885.2 L801.8 855.8 L765.5 856.3 L720.4 877.6 L680.3 905.2" stroke-width="1" fill="none"/>
<path d="M796.8 907.7 L795.6 915.2 L801.8 922.8" stroke-width="1" fill="none"/>
<path d="M720.4 877.6 L680.3 915.2 L652.7 940.3 L632.7 966.6" stroke-width="1" fill="none"/>
<path d="M616.4 972.9 L632.7 966.6 L645.2 975.4 L651.5 992.9 L646.4 1004.2 L642.7 1003.0" stroke-width="1" fill="none"/>
<path d="M642.7 1003.0 L652.7 985.4" stroke-width="1" fill="none"/>
<path d="M597.6 997.9 L615.1 991.7 L616.4 972.9" stroke-width="1" fill="none"/>
<path d="M602.6 1036.8 L607.6 1033.0 L646.4 976.6" stroke-width="1" fill="none"/>
<path d="M607.6 1033.0 L618.9 1049.3 L623.9 1068.1" stroke-width="1" fill="none"/>
<path d="M605.1 1038.0 L616.4 1070.6" stroke-width="1" fill="none"/>
<path d="M618.9 1049.3 L709.1 984.2" stroke-width="1" fill="none"/>
<path d="M651.5 992.9 L674.0 960.4 L677.8 959.1" stroke-width="1" fill="none"/>
<path d="M677.8 895.2 L680.3 906.5 L675.3 909.0" stroke-width="1" fill="none"/>
<path d="M687.8 892.7 L690.3 895.2" stroke-width="1" fill="none"/>
<path d="M742.5 1056.2 L815.2 928.4" stroke-width="1" fill="none"/>
<path d="M742.5 1056.2 L765.1 1042.0 L778.5 1016.1 L796.8 973.5 L813.5 932.6" stroke-width="1" fill="none"/>
<path d="M778.5 1016.1 L805.2 1001.9 L838.6 975.2 L845.3 976.0 L890.1 967.9 L990.4 966.6 L1002.9 960.4 L1090.6 895.2" stroke-width="1" fill="none"/>
<path d="M742.5 1056.2 L785.1 1040.4 L823.6 1015.3 L853.6 988.6 L890.1 982.9 L990.4 980.4 L1005.4 975.4 L1091.9 910.2 L1088.1 930.3" stroke-width="1" fill="none"/>
<path d="M815.2 928.4 L831.9 957.6 L840.3 975.2" stroke-width="1" fill="none"/>
<path d="M826.9 940.9 L830.3 945.1 L831.9 957.6 L836.9 957.6 L836.1 937.6" stroke-width="1" fill="none"/>
<path d="M836.9 957.6 L848.6 964.3 L890.1 960.4 L982.9 956.6 L1000.4 949.1 L1080.6 887.7 L1084.4 885.2" stroke-width="1" fill="none"/>
<path d="M846.1 950.1 L848.6 964.3" stroke-width="1" fill="none"/>
<path d="M742.9 1137.0 L770.5 1103.2 L815.2 1055.4 L840.3 1042.0 L867.0 1034.5 L930.0 1029.5 L942.8 1030.5 L1024.2 1036.8" stroke-width="1" fill="none"/>
<path d="M700.3 1066.9 L722.9 1080.7 L717.9 1083.2" stroke-width="1" fill="none"/>
<path d="M687.8 1059.3 L722.9 1080.7" stroke-width="1" fill="none"/>
<path d="M1094.4 900.2 L1091.9 910.2" stroke-width="1" fill="none"/>
<ellipse cx="1101.2" cy="915.2" rx="1.8" ry="2.0" stroke-width="1" fill="none"/>
<path d="M758.0 1216.4 L762.6 1211.9 L763.5 1195.3 L768.6 1188.7 L776.1 1187.8 L780.6 1192.3 L785.1 1189.9 L830.2 1139.7 L831.7 1127.7 L836.2 1118.6 L843.8 1115.0 L849.8 1120.2 L851.3 1126.2 L884.4 1114.1 L950.5 1105.1 L955.0 1105.1 L956.5 1097.6 L962.6 1092.5 L970.1 1093.1 L971.6 1103.6 L977.6 1106.6 L1040.8 1105.1 L1052.8 1099.1 L1055.8 1085.6 L1061.8 1078.6 L1070.8 1077.4 L1076.8 1084.1 L1078.3 1090.1 L1088.9 1091.6 L1090.4 1118.6 L1079.8 1129.2 L1046.8 1147.2 L974.6 1154.7 L932.5 1171.3 L884.4 1198.3 L842.3 1240.5 L801.7 1296.1 L783.6 1294.6 L780.6 1297.6 L776.1 1284.1 L782.1 1279.5Z" stroke-width="3" fill="#fff"/>
<path d="M830.2 1139.7 L840.8 1142.7 L849.8 1126.2" stroke-width="1" fill="none"/>
<path d="M780.6 1192.3 L783.6 1201.4 L788.1 1198.3" stroke-width="1" fill="none"/>
<path d="M955.0 1105.1 L956.5 1115.6 L971.6 1112.6 L971.6 1103.6" stroke-width="1" fill="none"/>
<path d="M1055.8 1085.6 L1057.3 1099.1 L1075.3 1093.1 L1076.8 1084.1" stroke-width="1" fill="none"/>
<path d="M785.1 1201.4 L840.8 1136.7" stroke-width="1" fill="none"/>
<ellipse cx="772.2" cy="1195.9" rx="1.8" ry="2.1" stroke-width="1" fill="none"/>
<ellipse cx="842.3" cy="1124.1" rx="1.8" ry="2.1" stroke-width="1" fill="none"/>
<ellipse cx="963.2" cy="1101.5" rx="1.8" ry="2.1" stroke-width="1" fill="none"/>
<ellipse cx="1066.3" cy="1086.5" rx="1.8" ry="2.1" stroke-width="1" fill="none"/>
<path d="M763.5 1213.4 L842.3 1139.7 L884.4 1124.7 L950.5 1114.1 L980.6 1114.1" stroke-width="1" fill="none"/>
<path d="M768.6 1226.9 L830.2 1159.2 L860.3 1141.2 L950.5 1123.2 L1046.8 1115.6 L1079.8 1093.1" stroke-width="1" fill="none"/>
<path d="M779.1 1235.9 L839.2 1168.3 L875.3 1147.2 L944.5 1130.7 L989.6 1130.7 L1054.3 1127.7 L1088.9 1117.1" stroke-width="1" fill="none"/>
<path d="M834.7 1174.3 L846.8 1207.4 L848.3 1189.3 L932.5 1159.2 L944.5 1150.2 L974.6 1136.7" stroke-width="1" fill="none"/>
<path d="M834.7 1174.3 L875.3 1159.2 L899.4 1159.2" stroke-width="1" fill="none"/>
<path d="M846.8 1207.4 L887.4 1183.3 L944.5 1156.2 L944.5 1150.2" stroke-width="1" fill="none"/>
<path d="M977.6 1106.6 L989.6 1117.1 L1046.8 1115.6 L1052.8 1099.1" stroke-width="1" fill="none"/>
<path d="M1046.8 1115.6 L1054.3 1127.7" stroke-width="1" fill="none"/>
<path d="M758.0 1216.4 L768.6 1226.9 L779.1 1235.9 L797.1 1294.6" stroke-width="1" fill="none"/>
<path d="M768.6 1226.9 L785.1 1279.5" stroke-width="1" fill="none"/>
<path d="M776.1 1284.1 L785.1 1279.5 L788.1 1294.6" stroke-width="1" fill="none"/>
<g transform="translate(58.3 22.3) rotate(0) scale(1 1)"><ellipse cx="0" cy="1.5" rx="3.2" ry="1.5" fill="#fff" stroke-width="1"/><path d="M-5 3 L5 3 L5 8 L-5 8Z M-1.8 3 L-1.8 8 M1.8 3 L1.8 8" fill="#fff" stroke-width="1"/><ellipse cx="0" cy="9" rx="6.4" ry="1.8" fill="#fff" stroke-width="1"/><rect x="-3.2" y="10.5" width="6.4" height="14" fill="#222" stroke-width="0.8"/></g>
<g transform="translate(228.0 24.3) rotate(0) scale(1 1)"><ellipse cx="0" cy="1.5" rx="3.2" ry="1.5" fill="#fff" stroke-width="1"/><path d="M-5 3 L5 3 L5 8 L-5 8Z M-1.8 3 L-1.8 8 M1.8 3 L1.8 8" fill="#fff" stroke-width="1"/><ellipse cx="0" cy="9" rx="6.4" ry="1.8" fill="#fff" stroke-width="1"/><rect x="-3.2" y="10.5" width="6.4" height="14" fill="#222" stroke-width="0.8"/></g>
<g transform="translate(149.2 27.5) rotate(0) scale(1 1)"><g transform="scale(1.0)"><rect x="-3.4" y="3" width="6.8" height="11" fill="#fff" stroke-width="1"/><path d="M-3.4 5.5 L3.4 6.5 M-3.4 8 L3.4 9 M-3.4 10.5 L3.4 11.5 M-3.4 13 L3.4 14" stroke-width="1"/><path d="M-8.8 0 C-8.8 -5 8.8 -5 8.8 0 C8.8 3.5 4 4.2 0 4.2 C-4 4.2 -8.8 3.5 -8.8 0Z" fill="#fff" stroke-width="1.2"/><ellipse cx="0" cy="-2.4" rx="2.2" ry="0.9" fill="#000" stroke-width="0.5"/></g></g>
<ellipse cx="229.4" cy="117.6" rx="6.6" ry="6.6" stroke-width="1" fill="#111"/>
<path d="M227.9 118.6 l3 -3.5 l1.5 4.5 l-3 1.5z" fill="#fff" style="stroke:#fff" stroke-width="0.6"/>
<ellipse cx="58.3" cy="199.2" rx="6.6" ry="6.6" stroke-width="1" fill="#111"/>
<path d="M56.8 200.2 l3 -3.5 l1.5 4.5 l-3 1.5z" fill="#fff" style="stroke:#fff" stroke-width="0.6"/>
<g transform="translate(359.3 114.5) rotate(0) scale(1 1)"><path d="M0 -5 L4.6 -1 L3 2.5 L-3 2.5 L-4.6 -1Z" fill="#fff" stroke-width="1.1"/><rect x="-2.3" y="2.5" width="4.6" height="10" fill="#fff" stroke-width="1"/></g>
<path d="M362.5 120.4 L400.7 120.4" stroke-width="1" fill="none"/>
<text x="418.5" y="129.0" font-size="25" text-anchor="middle">10</text>
<ellipse cx="358.4" cy="152.4" rx="6.0" ry="5.6" stroke-width="1" fill="#111"/>
<path d="M356.4 151.9 l3 0" style="stroke:#fff" stroke-width="1.2"/>
<path d="M364.8 152.4 L403.4 152.4" stroke-width="1" fill="none"/>
<text x="421.5" y="161.2" font-size="25" text-anchor="middle">11</text>
<path d="M358.4 127.2 L358.4 146.5" stroke-width="1" fill="none"/>
<path d="M358.4 157.5 L358.4 164.0 L292.2 193.5 L292.2 220.0" stroke-width="1" fill="none"/>
<path d="M527.1 83.7 L537.3 89.5" stroke-width="1" fill="none"/>
<path d="M537.3 89.5 L537.3 137.4" stroke-width="1" fill="none"/>
<path d="M537.3 141.8 L537.3 157.6" stroke-width="1" fill="none"/>
<path d="M537.3 165.5 L537.3 214.7" stroke-width="1" fill="none"/>
<g transform="translate(510.0 73.2) rotate(0) scale(1 1)"><ellipse cx="0" cy="0" rx="7.4" ry="9.2" fill="#fff" stroke-width="1"/><ellipse cx="1" cy="0.3" rx="5.6" ry="7.4" fill="#fff" stroke-width="1"/><path d="M2 -4.5 L11 1 L11 10 L3 6.5Z" fill="#fff" stroke-width="1"/><path d="M8 2.5 L12 2 L15.5 5 L15 9.5 L11.5 11.5 L8 9Z" fill="#fff" stroke-width="1.1"/><ellipse cx="11.8" cy="6.6" rx="2.3" ry="2.8" fill="none" stroke-width="0.9"/></g>
<path d="M461.3 70.2 L501.5 70.2" stroke-width="1" fill="none"/>
<text x="453.0" y="80.3" font-size="25" text-anchor="middle">6</text>
<path d="M68.8 327.2 L68.8 383.0" stroke-width="1" fill="none"/>
<g transform="translate(65.0 393.0) rotate(0) scale(1 1)"><ellipse cx="0" cy="0" rx="7.4" ry="9.2" fill="#fff" stroke-width="1"/><ellipse cx="1" cy="0.3" rx="5.6" ry="7.4" fill="#fff" stroke-width="1"/><path d="M2 -4.5 L11 1 L11 10 L3 6.5Z" fill="#fff" stroke-width="1"/><path d="M8 2.5 L12 2 L15.5 5 L15 9.5 L11.5 11.5 L8 9Z" fill="#fff" stroke-width="1.1"/><ellipse cx="11.8" cy="6.6" rx="2.3" ry="2.8" fill="none" stroke-width="0.9"/></g>
<path d="M70.4 403.8 L70.4 434.0" stroke-width="1" fill="none"/>
<text x="72.0" y="460.7" font-size="25" text-anchor="middle">6</text>
<path d="M134.1 438.1 L134.1 469.0" stroke-width="1" fill="none"/>
<text x="137.5" y="497.3" font-size="25" text-anchor="middle">16</text>
<path d="M183.5 536.1 L221.8 536.1" stroke-width="1" fill="none"/>
<text x="168.5" y="547.4" font-size="25" text-anchor="middle">15</text>
<path d="M239.3 453.2 L277.0 474.0 L277.0 603.0" stroke-width="1" fill="none"/>
<g transform="translate(278.2 576.1) rotate(0) scale(1 1)"><g transform="scale(1.0)"><path d="M-12.5 -3.5 L-12.8 0.5 L2.3 10 L12 4 L12.3 0 L-2.5 -9Z" fill="#fff" stroke-width="1.6"/><path d="M-12.5 -3.5 L2.8 6 L12.3 0 M2.8 6 L2.3 10" stroke-width="1.6" fill="none"/><ellipse cx="-1" cy="-2" rx="4.6" ry="2.9" fill="#fff" stroke-width="1.7"/><ellipse cx="6.6" cy="1.8" rx="2.1" ry="1.7" fill="#fff" stroke-width="1.6"/><path d="M4.6 4.9 L4.6 2.2 M8.7 2.2 L8.7 2.4" stroke-width="1.4" fill="none"/></g></g>
<g transform="translate(277.7 616.1) rotate(0) scale(1 1)"><ellipse cx="0" cy="0" rx="9.2" ry="5.2" fill="#fff" stroke-width="1.4"/><rect x="-3.6" y="-16" width="7.2" height="17" fill="#222" stroke-width="0.8" rx="1"/><path d="M-3.6 -12 L3.6 -12 M-3.6 -8 L3.6 -8 M-3.6 -4 L3.6 -4" style="stroke:#999" stroke-width="0.7"/><ellipse cx="0" cy="1.2" rx="4.5" ry="1.6" fill="#222" stroke-width="0.6"/></g>
<path d="M225.6 576.7 L265.7 576.7" stroke-width="1" fill="none"/>
<text x="215.2" y="586.8" font-size="25" text-anchor="middle">2</text>
<path d="M229.3 619.5 L268.2 619.5" stroke-width="1" fill="none"/>
<text x="222.0" y="629.4" font-size="25" text-anchor="middle">1</text>
<path d="M343.6 401.0 L372.9 416.5 L372.9 563.0" stroke-width="1" fill="none"/>
<path d="M296.5 377.1 L316.5 387.2" stroke-width="1" fill="none"/>
<path d="M325.3 391.4 L336.6 397.2" stroke-width="1" fill="none"/>
<g transform="translate(374.5 531.0) rotate(0) scale(1 1)"><g transform="scale(1.0)"><path d="M-12.5 -3.5 L-12.8 0.5 L2.3 10 L12 4 L12.3 0 L-2.5 -9Z" fill="#fff" stroke-width="1.6"/><path d="M-12.5 -3.5 L2.8 6 L12.3 0 M2.8 6 L2.3 10" stroke-width="1.6" fill="none"/><ellipse cx="-1" cy="-2" rx="4.6" ry="2.9" fill="#fff" stroke-width="1.7"/><ellipse cx="6.6" cy="1.8" rx="2.1" ry="1.7" fill="#fff" stroke-width="1.6"/><path d="M4.6 4.9 L4.6 2.2 M8.7 2.2 L8.7 2.4" stroke-width="1.4" fill="none"/></g></g>
<g transform="translate(373.7 579.2) rotate(0) scale(1 1)"><ellipse cx="0" cy="0" rx="9.2" ry="5.2" fill="#fff" stroke-width="1.4"/><rect x="-3.6" y="-16" width="7.2" height="17" fill="#222" stroke-width="0.8" rx="1"/><path d="M-3.6 -12 L3.6 -12 M-3.6 -8 L3.6 -8 M-3.6 -4 L3.6 -4" style="stroke:#999" stroke-width="0.7"/><ellipse cx="0" cy="1.2" rx="4.5" ry="1.6" fill="#222" stroke-width="0.6"/></g>
<path d="M387.4 533.0 L427.5 533.0" stroke-width="1" fill="none"/>
<text x="440.0" y="542.2" font-size="25" text-anchor="middle">2</text>
<path d="M383.4 579.6 L423.5 579.6" stroke-width="1" fill="none"/>
<text x="434.0" y="588.3" font-size="25" text-anchor="middle">1</text>
<path d="M190.5 425.1 L218.0 440.2" stroke-width="1" fill="none"/>
<path d="M225.0 444.0 L234.0 449.0" stroke-width="1" fill="none"/>
<path d="M491.8 320.0 L511.1 330.9" stroke-width="1" fill="none"/>
<path d="M519.4 335.9 L526.9 340.1" stroke-width="1" fill="none"/>
<path d="M537.0 345.9 L567.0 365.1" stroke-width="1" fill="none"/>
<path d="M587.1 376.8 L608.8 391.8" stroke-width="1" fill="none"/>
<g transform="translate(578.4 370.6) rotate(0) scale(1 1)"><g transform="scale(1.0)"><path d="M-12.5 -3.5 L-12.8 0.5 L2.3 10 L12 4 L12.3 0 L-2.5 -9Z" fill="#fff" stroke-width="1.6"/><path d="M-12.5 -3.5 L2.8 6 L12.3 0 M2.8 6 L2.3 10" stroke-width="1.6" fill="none"/><ellipse cx="-1" cy="-2" rx="4.6" ry="2.9" fill="#fff" stroke-width="1.7"/><ellipse cx="6.6" cy="1.8" rx="2.1" ry="1.7" fill="#fff" stroke-width="1.6"/><path d="M4.6 4.9 L4.6 2.2 M8.7 2.2 L8.7 2.4" stroke-width="1.4" fill="none"/></g></g>
<path d="M581.7 332.5 L581.7 364.3" stroke-width="1" fill="none"/>
<text x="583.0" y="326.0" font-size="25" text-anchor="middle">2</text>
<path d="M420.0 353.4 L456.8 373.5" stroke-width="1" fill="none"/>
<path d="M481.8 387.7 L523.6 412.7" stroke-width="1" fill="none"/>
<path d="M544.5 426.9 L565.4 440.6" stroke-width="1" fill="none"/>
<g transform="translate(534.6 419.4) rotate(0) scale(1 1)"><g transform="scale(1.0)"><path d="M-12.5 -3.5 L-12.8 0.5 L2.3 10 L12 4 L12.3 0 L-2.5 -9Z" fill="#fff" stroke-width="1.6"/><path d="M-12.5 -3.5 L2.8 6 L12.3 0 M2.8 6 L2.3 10" stroke-width="1.6" fill="none"/><ellipse cx="-1" cy="-2" rx="4.6" ry="2.9" fill="#fff" stroke-width="1.7"/><ellipse cx="6.6" cy="1.8" rx="2.1" ry="1.7" fill="#fff" stroke-width="1.6"/><path d="M4.6 4.9 L4.6 2.2 M8.7 2.2 L8.7 2.4" stroke-width="1.4" fill="none"/></g></g>
<path d="M533.6 428.6 L533.6 459.5" stroke-width="1" fill="none"/>
<text x="535.0" y="487.0" font-size="25" text-anchor="middle">2</text>
<g transform="translate(579.6 447.8) rotate(0) scale(1 1)"><g transform="rotate(30)"><rect x="-17" y="-4" width="11" height="8" fill="#fff" stroke-width="1"/><path d="M-15 -4 L-14 4 M-12.5 -4 L-11.5 4 M-10 -4 L-9 4 M-7.5 -4 L-6.5 4" stroke-width="1.1"/></g><ellipse cx="0" cy="0" rx="6.3" ry="9" fill="#fff" stroke-width="1.2" transform="rotate(22)"/><ellipse cx="2" cy="1.5" rx="1.8" ry="2.6" fill="none" stroke-width="0.8" transform="rotate(22)"/></g>
<path d="M574.6 460.4 L574.6 491.3" stroke-width="1" fill="none"/>
<text x="574.5" y="520.0" font-size="25" text-anchor="middle">1</text>
<g transform="translate(623.8 400.3) rotate(0) scale(1 1)"><g transform="rotate(30)"><rect x="-17" y="-4" width="11" height="8" fill="#fff" stroke-width="1"/><path d="M-15 -4 L-14 4 M-12.5 -4 L-11.5 4 M-10 -4 L-9 4 M-7.5 -4 L-6.5 4" stroke-width="1.1"/></g><ellipse cx="0" cy="0" rx="6.3" ry="9" fill="#fff" stroke-width="1.2" transform="rotate(22)"/><ellipse cx="2" cy="1.5" rx="1.8" ry="2.6" fill="none" stroke-width="0.8" transform="rotate(22)"/></g>
<path d="M617.4 358.9 L617.4 391.0" stroke-width="1" fill="none"/>
<text x="617.0" y="353.7" font-size="25" text-anchor="middle">1</text>
<path d="M818.7 443.6 L818.7 487.2" stroke-width="1" fill="none"/>
<path d="M950.5 436.7 L950.5 568.0" stroke-width="1" fill="none"/>
<g transform="translate(819.3 428.9) rotate(0) scale(1 1)"><g transform="scale(1.0)"><rect x="-3.4" y="3" width="6.8" height="11" fill="#fff" stroke-width="1"/><path d="M-3.4 5.5 L3.4 6.5 M-3.4 8 L3.4 9 M-3.4 10.5 L3.4 11.5 M-3.4 13 L3.4 14" stroke-width="1"/><path d="M-8.8 0 C-8.8 -5 8.8 -5 8.8 0 C8.8 3.5 4 4.2 0 4.2 C-4 4.2 -8.8 3.5 -8.8 0Z" fill="#fff" stroke-width="1.2"/><ellipse cx="0" cy="-2.4" rx="2.2" ry="0.9" fill="#000" stroke-width="0.5"/></g></g>
<path d="M828.5 429.2 L869.0 429.2" stroke-width="1" fill="none"/>
<text x="879.5" y="437.6" font-size="25" text-anchor="middle">1</text>
<g transform="translate(951.0 422.3) rotate(0) scale(1 1)"><g transform="scale(1.0)"><rect x="-3.4" y="3" width="6.8" height="11" fill="#fff" stroke-width="1"/><path d="M-3.4 5.5 L3.4 6.5 M-3.4 8 L3.4 9 M-3.4 10.5 L3.4 11.5 M-3.4 13 L3.4 14" stroke-width="1"/><path d="M-8.8 0 C-8.8 -5 8.8 -5 8.8 0 C8.8 3.5 4 4.2 0 4.2 C-4 4.2 -8.8 3.5 -8.8 0Z" fill="#fff" stroke-width="1.2"/><ellipse cx="0" cy="-2.4" rx="2.2" ry="0.9" fill="#000" stroke-width="0.5"/></g></g>
<path d="M960.7 422.3 L1002.5 422.3" stroke-width="1" fill="none"/>
<text x="1012.5" y="432.1" font-size="25" text-anchor="middle">1</text>
<path d="M998.3 533.0 L1038.0 533.0" stroke-width="1" fill="none"/>
<text x="1049.8" y="542.4" font-size="25" text-anchor="middle">8</text>
<text x="881.0" y="647.3" font-size="25" text-anchor="middle">9</text>
<path d="M880.1 651.0 L880.1 684.0" stroke-width="1" fill="none"/>
<path d="M888.1 693.5 L949.6 730.9" stroke-width="1" fill="none"/>
<g transform="translate(880.1 688.8) rotate(0) scale(1 1)"><path d="M-9.5 -5 L-5 -7.5 L9 0.5 L9 5 L5 7.5 L-9 -1Z" fill="#fff" stroke-width="1.2"/><path d="M-9.5 -5 L4.5 3 L9 0.5 M4.5 3 L5 7.5" stroke-width="1" fill="none"/><ellipse cx="6.8" cy="4" rx="1.5" ry="2" fill="none" stroke-width="0.9"/></g>
<path d="M509.0 543.7 L509.0 577.8" stroke-width="1" fill="none"/>
<text x="509.8" y="538.7" font-size="25" text-anchor="middle">1</text>
<g transform="translate(509.5 582.8) rotate(0) scale(1 1)"><g transform="scale(1.0)"><rect x="-3.4" y="3" width="6.8" height="11" fill="#fff" stroke-width="1"/><path d="M-3.4 5.5 L3.4 6.5 M-3.4 8 L3.4 9 M-3.4 10.5 L3.4 11.5 M-3.4 13 L3.4 14" stroke-width="1"/><path d="M-8.8 0 C-8.8 -5 8.8 -5 8.8 0 C8.8 3.5 4 4.2 0 4.2 C-4 4.2 -8.8 3.5 -8.8 0Z" fill="#fff" stroke-width="1.2"/><ellipse cx="0" cy="-2.4" rx="2.2" ry="0.9" fill="#000" stroke-width="0.5"/></g></g>
<path d="M509.0 597.0 L509.0 627.6 L520.0 633.5" stroke-width="1" fill="none"/>
<text x="463.0" y="572.3" font-size="25" text-anchor="middle">12</text>
<path d="M460.5 579.5 L460.5 611.0" stroke-width="1" fill="none"/>
<g transform="translate(460.5 617.6) rotate(0) scale(1 1)"><g transform="scale(0.72)"><rect x="-3.4" y="3" width="6.8" height="11" fill="#fff" stroke-width="1"/><path d="M-3.4 5.5 L3.4 6.5 M-3.4 8 L3.4 9 M-3.4 10.5 L3.4 11.5 M-3.4 13 L3.4 14" stroke-width="1"/><path d="M-8.8 0 C-8.8 -5 8.8 -5 8.8 0 C8.8 3.5 4 4.2 0 4.2 C-4 4.2 -8.8 3.5 -8.8 0Z" fill="#fff" stroke-width="1.2"/><ellipse cx="0" cy="-2.4" rx="2.2" ry="0.9" fill="#000" stroke-width="0.5"/></g></g>
<path d="M460.5 629.5 L460.5 657.0" stroke-width="1" fill="none"/>
<g transform="translate(460.5 663.2) rotate(0) scale(1 1)"><g transform="scale(1.0)"><path d="M-12.5 -3.5 L-12.8 0.5 L2.3 10 L12 4 L12.3 0 L-2.5 -9Z" fill="#fff" stroke-width="1.6"/><path d="M-12.5 -3.5 L2.8 6 L12.3 0 M2.8 6 L2.3 10" stroke-width="1.6" fill="none"/><ellipse cx="-1" cy="-2" rx="4.6" ry="2.9" fill="#fff" stroke-width="1.7"/><ellipse cx="6.6" cy="1.8" rx="2.1" ry="1.7" fill="#fff" stroke-width="1.6"/><path d="M4.6 4.9 L4.6 2.2 M8.7 2.2 L8.7 2.4" stroke-width="1.4" fill="none"/></g></g>
<path d="M470.0 668.0 L482.0 675.0" stroke-width="1" fill="none"/>
<path d="M406.0 660.7 L447.5 660.7" stroke-width="1" fill="none"/>
<text x="387.3" y="669.5" font-size="25" text-anchor="middle">13</text>
<path d="M411.0 703.0 L451.0 703.0" stroke-width="1" fill="none"/>
<text x="392.3" y="712.3" font-size="25" text-anchor="middle">14</text>
<path d="M707.0 733.0 L762.0 760.4" stroke-width="1" fill="none"/>
<g transform="translate(770.1 758.6) rotate(0) scale(1 1)"><g transform="scale(1.0)"><rect x="-3.4" y="3" width="6.8" height="11" fill="#fff" stroke-width="1"/><path d="M-3.4 5.5 L3.4 6.5 M-3.4 8 L3.4 9 M-3.4 10.5 L3.4 11.5 M-3.4 13 L3.4 14" stroke-width="1"/><path d="M-8.8 0 C-8.8 -5 8.8 -5 8.8 0 C8.8 3.5 4 4.2 0 4.2 C-4 4.2 -8.8 3.5 -8.8 0Z" fill="#fff" stroke-width="1.2"/><ellipse cx="0" cy="-2.4" rx="2.2" ry="0.9" fill="#000" stroke-width="0.5"/></g></g>
<path d="M778.8 757.9 L819.2 757.9" stroke-width="1" fill="none"/>
<text x="829.0" y="767.8" font-size="25" text-anchor="middle">1</text>
<g transform="translate(737.7 779.5) rotate(0) scale(1 1)"><path d="M0 -5 L4.6 -1 L3 2.5 L-3 2.5 L-4.6 -1Z" fill="#fff" stroke-width="1.1"/><rect x="-2.3" y="2.5" width="4.6" height="10" fill="#fff" stroke-width="1"/></g>
<path d="M742.0 784.0 L783.0 784.0" stroke-width="1" fill="none"/>
<text x="798.0" y="794.0" font-size="25" text-anchor="middle">10</text>
<ellipse cx="737.0" cy="816.4" rx="6.0" ry="5.6" stroke-width="1" fill="#111"/>
<path d="M735.0 815.9 l3 0" style="stroke:#fff" stroke-width="1.2"/>
<path d="M744.0 816.4 L783.0 816.4" stroke-width="1" fill="none"/>
<text x="801.0" y="826.4" font-size="25" text-anchor="middle">11</text>
<path d="M737.5 791.5 L737.5 810.2" stroke-width="1" fill="none"/>
<path d="M737.5 822.6 L737.5 846.3" stroke-width="1" fill="none"/>
<path d="M657.5 787.5 L657.5 846.4" stroke-width="1" fill="none"/>
<g transform="translate(658.8 852.7) rotate(0) scale(1 1)"><g transform="scale(1.0)"><path d="M-12.5 -3.5 L-12.8 0.5 L2.3 10 L12 4 L12.3 0 L-2.5 -9Z" fill="#fff" stroke-width="1.6"/><path d="M-12.5 -3.5 L2.8 6 L12.3 0 M2.8 6 L2.3 10" stroke-width="1.6" fill="none"/><ellipse cx="-1" cy="-2" rx="4.6" ry="2.9" fill="#fff" stroke-width="1.7"/><ellipse cx="6.6" cy="1.8" rx="2.1" ry="1.7" fill="#fff" stroke-width="1.6"/><path d="M4.6 4.9 L4.6 2.2 M8.7 2.2 L8.7 2.4" stroke-width="1.4" fill="none"/></g></g>
<path d="M611.8 854.7 L646.9 854.7" stroke-width="1" fill="none"/>
<text x="592.2" y="864.5" font-size="25" text-anchor="middle">12</text>
<path d="M593.0 884.0 L655.6 859.0" stroke-width="1" fill="none"/>
<g transform="translate(587.5 881.5) rotate(0) scale(1 1)"><g transform="scale(0.72)"><rect x="-3.4" y="3" width="6.8" height="11" fill="#fff" stroke-width="1"/><path d="M-3.4 5.5 L3.4 6.5 M-3.4 8 L3.4 9 M-3.4 10.5 L3.4 11.5 M-3.4 13 L3.4 14" stroke-width="1"/><path d="M-8.8 0 C-8.8 -5 8.8 -5 8.8 0 C8.8 3.5 4 4.2 0 4.2 C-4 4.2 -8.8 3.5 -8.8 0Z" fill="#fff" stroke-width="1.2"/><ellipse cx="0" cy="-2.4" rx="2.2" ry="0.9" fill="#000" stroke-width="0.5"/></g></g>
<path d="M542.4 889.8 L581.7 889.8" stroke-width="1" fill="none"/>
<text x="527.2" y="897.3" font-size="25" text-anchor="middle">13</text>
<text x="447.7" y="847.2" font-size="25" text-anchor="middle">6</text>
<path d="M447.6 853.2 L447.6 884.0" stroke-width="1" fill="none"/>
<path d="M433.8 904.5 L410.6 915.6" stroke-width="1" fill="none"/>
<path d="M396.8 922.6 L343.5 948.7 L390.2 975.8" stroke-width="1" fill="none"/>
<path d="M398.6 980.3 L408.2 985.7" stroke-width="1" fill="none"/>
<path d="M415.7 989.9 L463.8 1017.0 L505.9 996.8" stroke-width="1" fill="none"/>
<path d="M513.5 993.2 L522.5 989.3" stroke-width="1" fill="none"/>
<path d="M530.9 984.8 L576.6 963.8" stroke-width="1" fill="none"/>
<path d="M585.6 959.2 L594.7 954.7" stroke-width="1" fill="none"/>
<path d="M603.7 950.2 L639.8 934.6" stroke-width="1" fill="none"/>
<g transform="translate(451.4 894.8) rotate(0) scale(-1 1)"><ellipse cx="0" cy="0" rx="7.4" ry="9.2" fill="#fff" stroke-width="1"/><ellipse cx="1" cy="0.3" rx="5.6" ry="7.4" fill="#fff" stroke-width="1"/><path d="M2 -4.5 L11 1 L11 10 L3 6.5Z" fill="#fff" stroke-width="1"/><path d="M8 2.5 L12 2 L15.5 5 L15 9.5 L11.5 11.5 L8 9Z" fill="#fff" stroke-width="1.1"/><ellipse cx="11.8" cy="6.6" rx="2.3" ry="2.8" fill="none" stroke-width="0.9"/></g>
<path d="M985.7 697.5 L985.7 711.0" stroke-width="1" fill="none"/>
<path d="M985.7 697.5 L929.0 724.5" stroke-width="1" fill="none"/>
<path d="M920.0 728.8 L911.0 733.0" stroke-width="1" fill="none"/>
<path d="M903.0 736.8 L845.3 764.3 L845.3 816.5 L799.3 838.8" stroke-width="1" fill="none"/>
<path d="M987.0 736.3 L1021.8 720.2 L1021.8 697.5 L1071.3 674.8 L1071.3 737.6" stroke-width="1" fill="none"/>
<g transform="translate(1072.0 704.2) rotate(0) scale(1 1)"><g transform="scale(1.0)"><path d="M-12.5 -3.5 L-12.8 0.5 L2.3 10 L12 4 L12.3 0 L-2.5 -9Z" fill="#fff" stroke-width="1.6"/><path d="M-12.5 -3.5 L2.8 6 L12.3 0 M2.8 6 L2.3 10" stroke-width="1.6" fill="none"/><ellipse cx="-1" cy="-2" rx="4.6" ry="2.9" fill="#fff" stroke-width="1.7"/><ellipse cx="6.6" cy="1.8" rx="2.1" ry="1.7" fill="#fff" stroke-width="1.6"/><path d="M4.6 4.9 L4.6 2.2 M8.7 2.2 L8.7 2.4" stroke-width="1.4" fill="none"/></g></g>
<g transform="translate(1070.5 752.8) rotate(0) scale(1 1)"><ellipse cx="0" cy="0" rx="9.2" ry="5.2" fill="#fff" stroke-width="1.4"/><rect x="-3.6" y="-16" width="7.2" height="17" fill="#222" stroke-width="0.8" rx="1"/><path d="M-3.6 -12 L3.6 -12 M-3.6 -8 L3.6 -8 M-3.6 -4 L3.6 -4" style="stroke:#999" stroke-width="0.7"/><ellipse cx="0" cy="1.2" rx="4.5" ry="1.6" fill="#222" stroke-width="0.6"/></g>
<path d="M1084.7 706.3 L1127.4 706.3" stroke-width="1" fill="none"/>
<text x="1138.0" y="716.2" font-size="25" text-anchor="middle">2</text>
<path d="M1080.6 753.6 L1123.4 753.6" stroke-width="1" fill="none"/>
<text x="1133.0" y="763.0" font-size="25" text-anchor="middle">1</text>
<path d="M818.1 861.4 L840.7 850.1" stroke-width="1" fill="none"/>
<path d="M850.7 846.3 L862.0 842.0" stroke-width="1" fill="none"/>
<path d="M894.8 856.6 L894.8 904.7" stroke-width="1" fill="none"/>
<g transform="translate(894.8 876.6) rotate(0) scale(1 1)"><g transform="scale(1.0)"><path d="M-12.5 -3.5 L-12.8 0.5 L2.3 10 L12 4 L12.3 0 L-2.5 -9Z" fill="#fff" stroke-width="1.6"/><path d="M-12.5 -3.5 L2.8 6 L12.3 0 M2.8 6 L2.3 10" stroke-width="1.6" fill="none"/><ellipse cx="-1" cy="-2" rx="4.6" ry="2.9" fill="#fff" stroke-width="1.7"/><ellipse cx="6.6" cy="1.8" rx="2.1" ry="1.7" fill="#fff" stroke-width="1.6"/><path d="M4.6 4.9 L4.6 2.2 M8.7 2.2 L8.7 2.4" stroke-width="1.4" fill="none"/></g></g>
<g transform="translate(894.8 918.9) rotate(0) scale(1 1)"><ellipse cx="0" cy="0" rx="9.2" ry="5.2" fill="#fff" stroke-width="1.4"/><rect x="-3.6" y="-16" width="7.2" height="17" fill="#222" stroke-width="0.8" rx="1"/><path d="M-3.6 -12 L3.6 -12 M-3.6 -8 L3.6 -8 M-3.6 -4 L3.6 -4" style="stroke:#999" stroke-width="0.7"/><ellipse cx="0" cy="1.2" rx="4.5" ry="1.6" fill="#222" stroke-width="0.6"/></g>
<path d="M906.8 878.0 L948.3 878.0" stroke-width="1" fill="none"/>
<text x="959.6" y="887.3" font-size="25" text-anchor="middle">2</text>
<path d="M904.2 918.9 L944.3 918.9" stroke-width="1" fill="none"/>
<text x="955.3" y="928.8" font-size="25" text-anchor="middle">1</text>
<path d="M984.4 824.5 L984.4 852.6" stroke-width="1" fill="none"/>
<text x="985.7" y="880.6" font-size="25" text-anchor="middle">7</text>
<path d="M544.8 1020.6 L586.0 1020.6" stroke-width="1" fill="none"/>
<text x="537.7" y="1030.3" font-size="25" text-anchor="middle">4</text>
<path d="M738.6 1291.4 L775.5 1291.4" stroke-width="1" fill="none"/>
<text x="732.0" y="1300.1" font-size="25" text-anchor="middle">3</text>
<path d="M685.6 1059.2 L722.9 1081.6 L688.1 1098.3" stroke-width="1" fill="none"/>
<path d="M678.1 1103.3 L669.4 1107.0" stroke-width="1" fill="none"/>
<path d="M659.4 1112.0 L622.1 1129.0 L660.7 1151.9" stroke-width="1" fill="none"/>
<g transform="translate(676.9 1161.3) rotate(180) scale(1 1)"><ellipse cx="0" cy="0" rx="7.4" ry="9.2" fill="#fff" stroke-width="1"/><ellipse cx="1" cy="0.3" rx="5.6" ry="7.4" fill="#fff" stroke-width="1"/><path d="M2 -4.5 L11 1 L11 10 L3 6.5Z" fill="#fff" stroke-width="1"/><path d="M8 2.5 L12 2 L15.5 5 L15 9.5 L11.5 11.5 L8 9Z" fill="#fff" stroke-width="1.1"/><ellipse cx="11.8" cy="6.6" rx="2.3" ry="2.8" fill="none" stroke-width="0.9"/></g>
<path d="M676.9 1173.0 L676.9 1204.2" stroke-width="1" fill="none"/>
<text x="678.4" y="1232.1" font-size="25" text-anchor="middle">6</text>
<path d="M1107.3 919.9 L1158.3 948.6" stroke-width="1" fill="none"/>
<g transform="translate(1174.5 957.3) rotate(180) scale(1 1)"><ellipse cx="0" cy="0" rx="7.4" ry="9.2" fill="#fff" stroke-width="1"/><ellipse cx="1" cy="0.3" rx="5.6" ry="7.4" fill="#fff" stroke-width="1"/><path d="M2 -4.5 L11 1 L11 10 L3 6.5Z" fill="#fff" stroke-width="1"/><path d="M8 2.5 L12 2 L15.5 5 L15 9.5 L11.5 11.5 L8 9Z" fill="#fff" stroke-width="1.1"/><ellipse cx="11.8" cy="6.6" rx="2.3" ry="2.8" fill="none" stroke-width="0.9"/></g>
<path d="M1168.8 969.7 L1168.8 999.6" stroke-width="1" fill="none"/>
<text x="1170.0" y="1028.3" font-size="25" text-anchor="middle">6</text>
<path d="M751.0 1138.0 L751.0 1183.3 L768.6 1192.3" stroke-width="1" fill="none"/>
<path d="M822.0 1062.0 L822.0 1114.1 L839.2 1121.7" stroke-width="1" fill="none"/>
<path d="M943.3 1041.8 L943.3 1091.0 L961.0 1099.1" stroke-width="1" fill="none"/>
<path d="M1043.5 1026.8 L1043.5 1074.0 L1063.3 1084.1" stroke-width="1" fill="none"/>
<path d="M777.6 1199.8 L797.1 1210.4" stroke-width="1" fill="none"/>
<path d="M807.7 1216.4 L816.7 1220.9" stroke-width="1" fill="none"/>
<path d="M824.2 1225.4 L869.8 1252.7" stroke-width="1" fill="none"/>
<path d="M893.7 1265.3 L911.6 1277.2" stroke-width="1" fill="none"/>
<path d="M849.8 1128.6 L872.3 1140.6" stroke-width="1" fill="none"/>
<path d="M881.4 1145.7 L890.4 1150.2" stroke-width="1" fill="none"/>
<path d="M899.4 1156.2 L945.9 1187.7" stroke-width="1" fill="none"/>
<path d="M969.7 1199.7 L989.1 1211.6" stroke-width="1" fill="none"/>
<path d="M968.6 1105.1 L1004.7 1124.7" stroke-width="1" fill="none"/>
<path d="M1012.2 1130.7 L1056.2 1156.4" stroke-width="1" fill="none"/>
<path d="M1078.6 1168.3 L1098.0 1180.3" stroke-width="1" fill="none"/>
<path d="M1069.0 1088.0 L1107.3 1111.7" stroke-width="1" fill="none"/>
<path d="M1128.4 1122.9 L1149.6 1135.4" stroke-width="1" fill="none"/>
<g transform="translate(881.6 1259.6) rotate(0) scale(1 1)"><g transform="scale(1.0)"><path d="M-12.5 -3.5 L-12.8 0.5 L2.3 10 L12 4 L12.3 0 L-2.5 -9Z" fill="#fff" stroke-width="1.6"/><path d="M-12.5 -3.5 L2.8 6 L12.3 0 M2.8 6 L2.3 10" stroke-width="1.6" fill="none"/><ellipse cx="-1" cy="-2" rx="4.6" ry="2.9" fill="#fff" stroke-width="1.7"/><ellipse cx="6.6" cy="1.8" rx="2.1" ry="1.7" fill="#fff" stroke-width="1.6"/><path d="M4.6 4.9 L4.6 2.2 M8.7 2.2 L8.7 2.4" stroke-width="1.4" fill="none"/></g></g>
<path d="M882.6 1268.8 L882.6 1301.0" stroke-width="1" fill="none"/>
<text x="885.0" y="1328.5" font-size="25" text-anchor="middle">2</text>
<g transform="translate(927.4 1286.7) rotate(0) scale(1 1)"><g transform="rotate(30)"><rect x="-17" y="-4" width="11" height="8" fill="#fff" stroke-width="1"/><path d="M-15 -4 L-14 4 M-12.5 -4 L-11.5 4 M-10 -4 L-9 4 M-7.5 -4 L-6.5 4" stroke-width="1.1"/></g><ellipse cx="0" cy="0" rx="6.3" ry="9" fill="#fff" stroke-width="1.2" transform="rotate(22)"/><ellipse cx="2" cy="1.5" rx="1.8" ry="2.6" fill="none" stroke-width="0.8" transform="rotate(22)"/></g>
<path d="M922.9 1298.0 L922.9 1327.9" stroke-width="1" fill="none"/>
<text x="924.5" y="1356.2" font-size="25" text-anchor="middle">1</text>
<g transform="translate(957.7 1194.4) rotate(0) scale(1 1)"><g transform="scale(1.0)"><path d="M-12.5 -3.5 L-12.8 0.5 L2.3 10 L12 4 L12.3 0 L-2.5 -9Z" fill="#fff" stroke-width="1.6"/><path d="M-12.5 -3.5 L2.8 6 L12.3 0 M2.8 6 L2.3 10" stroke-width="1.6" fill="none"/><ellipse cx="-1" cy="-2" rx="4.6" ry="2.9" fill="#fff" stroke-width="1.7"/><ellipse cx="6.6" cy="1.8" rx="2.1" ry="1.7" fill="#fff" stroke-width="1.6"/><path d="M4.6 4.9 L4.6 2.2 M8.7 2.2 L8.7 2.4" stroke-width="1.4" fill="none"/></g></g>
<path d="M960.2 1203.5 L960.2 1235.4" stroke-width="1" fill="none"/>
<text x="962.0" y="1263.8" font-size="25" text-anchor="middle">2</text>
<g transform="translate(1004.9 1220.5) rotate(0) scale(1 1)"><g transform="rotate(30)"><rect x="-17" y="-4" width="11" height="8" fill="#fff" stroke-width="1"/><path d="M-15 -4 L-14 4 M-12.5 -4 L-11.5 4 M-10 -4 L-9 4 M-7.5 -4 L-6.5 4" stroke-width="1.1"/></g><ellipse cx="0" cy="0" rx="6.3" ry="9" fill="#fff" stroke-width="1.2" transform="rotate(22)"/><ellipse cx="2" cy="1.5" rx="1.8" ry="2.6" fill="none" stroke-width="0.8" transform="rotate(22)"/></g>
<path d="M1000.5 1232.5 L1000.5 1263.8" stroke-width="1" fill="none"/>
<text x="1001.0" y="1292.1" font-size="25" text-anchor="middle">1</text>
<g transform="translate(1067.5 1163.9) rotate(0) scale(1 1)"><g transform="scale(1.0)"><path d="M-12.5 -3.5 L-12.8 0.5 L2.3 10 L12 4 L12.3 0 L-2.5 -9Z" fill="#fff" stroke-width="1.6"/><path d="M-12.5 -3.5 L2.8 6 L12.3 0 M2.8 6 L2.3 10" stroke-width="1.6" fill="none"/><ellipse cx="-1" cy="-2" rx="4.6" ry="2.9" fill="#fff" stroke-width="1.7"/><ellipse cx="6.6" cy="1.8" rx="2.1" ry="1.7" fill="#fff" stroke-width="1.6"/><path d="M4.6 4.9 L4.6 2.2 M8.7 2.2 L8.7 2.4" stroke-width="1.4" fill="none"/></g></g>
<path d="M1068.8 1172.8 L1068.8 1205.0" stroke-width="1" fill="none"/>
<text x="1070.0" y="1232.5" font-size="25" text-anchor="middle">2</text>
<g transform="translate(1113.8 1190.1) rotate(0) scale(1 1)"><g transform="rotate(30)"><rect x="-17" y="-4" width="11" height="8" fill="#fff" stroke-width="1"/><path d="M-15 -4 L-14 4 M-12.5 -4 L-11.5 4 M-10 -4 L-9 4 M-7.5 -4 L-6.5 4" stroke-width="1.1"/></g><ellipse cx="0" cy="0" rx="6.3" ry="9" fill="#fff" stroke-width="1.2" transform="rotate(22)"/><ellipse cx="2" cy="1.5" rx="1.8" ry="2.6" fill="none" stroke-width="0.8" transform="rotate(22)"/></g>
<path d="M1108.4 1201.1 L1108.4 1231.0" stroke-width="1" fill="none"/>
<text x="1109.5" y="1260.8" font-size="25" text-anchor="middle">1</text>
<g transform="translate(1118.5 1119.2) rotate(0) scale(1 1)"><g transform="scale(1.0)"><path d="M-12.5 -3.5 L-12.8 0.5 L2.3 10 L12 4 L12.3 0 L-2.5 -9Z" fill="#fff" stroke-width="1.6"/><path d="M-12.5 -3.5 L2.8 6 L12.3 0 M2.8 6 L2.3 10" stroke-width="1.6" fill="none"/><ellipse cx="-1" cy="-2" rx="4.6" ry="2.9" fill="#fff" stroke-width="1.7"/><ellipse cx="6.6" cy="1.8" rx="2.1" ry="1.7" fill="#fff" stroke-width="1.6"/><path d="M4.6 4.9 L4.6 2.2 M8.7 2.2 L8.7 2.4" stroke-width="1.4" fill="none"/></g></g>
<path d="M1120.5 1080.6 L1120.5 1111.7" stroke-width="1" fill="none"/>
<text x="1121.0" y="1074.4" font-size="25" text-anchor="middle">2</text>
<g transform="translate(1163.8 1145.3) rotate(0) scale(1 1)"><g transform="rotate(30)"><rect x="-17" y="-4" width="11" height="8" fill="#fff" stroke-width="1"/><path d="M-15 -4 L-14 4 M-12.5 -4 L-11.5 4 M-10 -4 L-9 4 M-7.5 -4 L-6.5 4" stroke-width="1.1"/></g><ellipse cx="0" cy="0" rx="6.3" ry="9" fill="#fff" stroke-width="1.2" transform="rotate(22)"/><ellipse cx="2" cy="1.5" rx="1.8" ry="2.6" fill="none" stroke-width="0.8" transform="rotate(22)"/></g>
<path d="M1166.5 1105.5 L1166.5 1135.4" stroke-width="1" fill="none"/>
<text x="1167.2" y="1099.3" font-size="25" text-anchor="middle">1</text>
</svg>
</body></html>
